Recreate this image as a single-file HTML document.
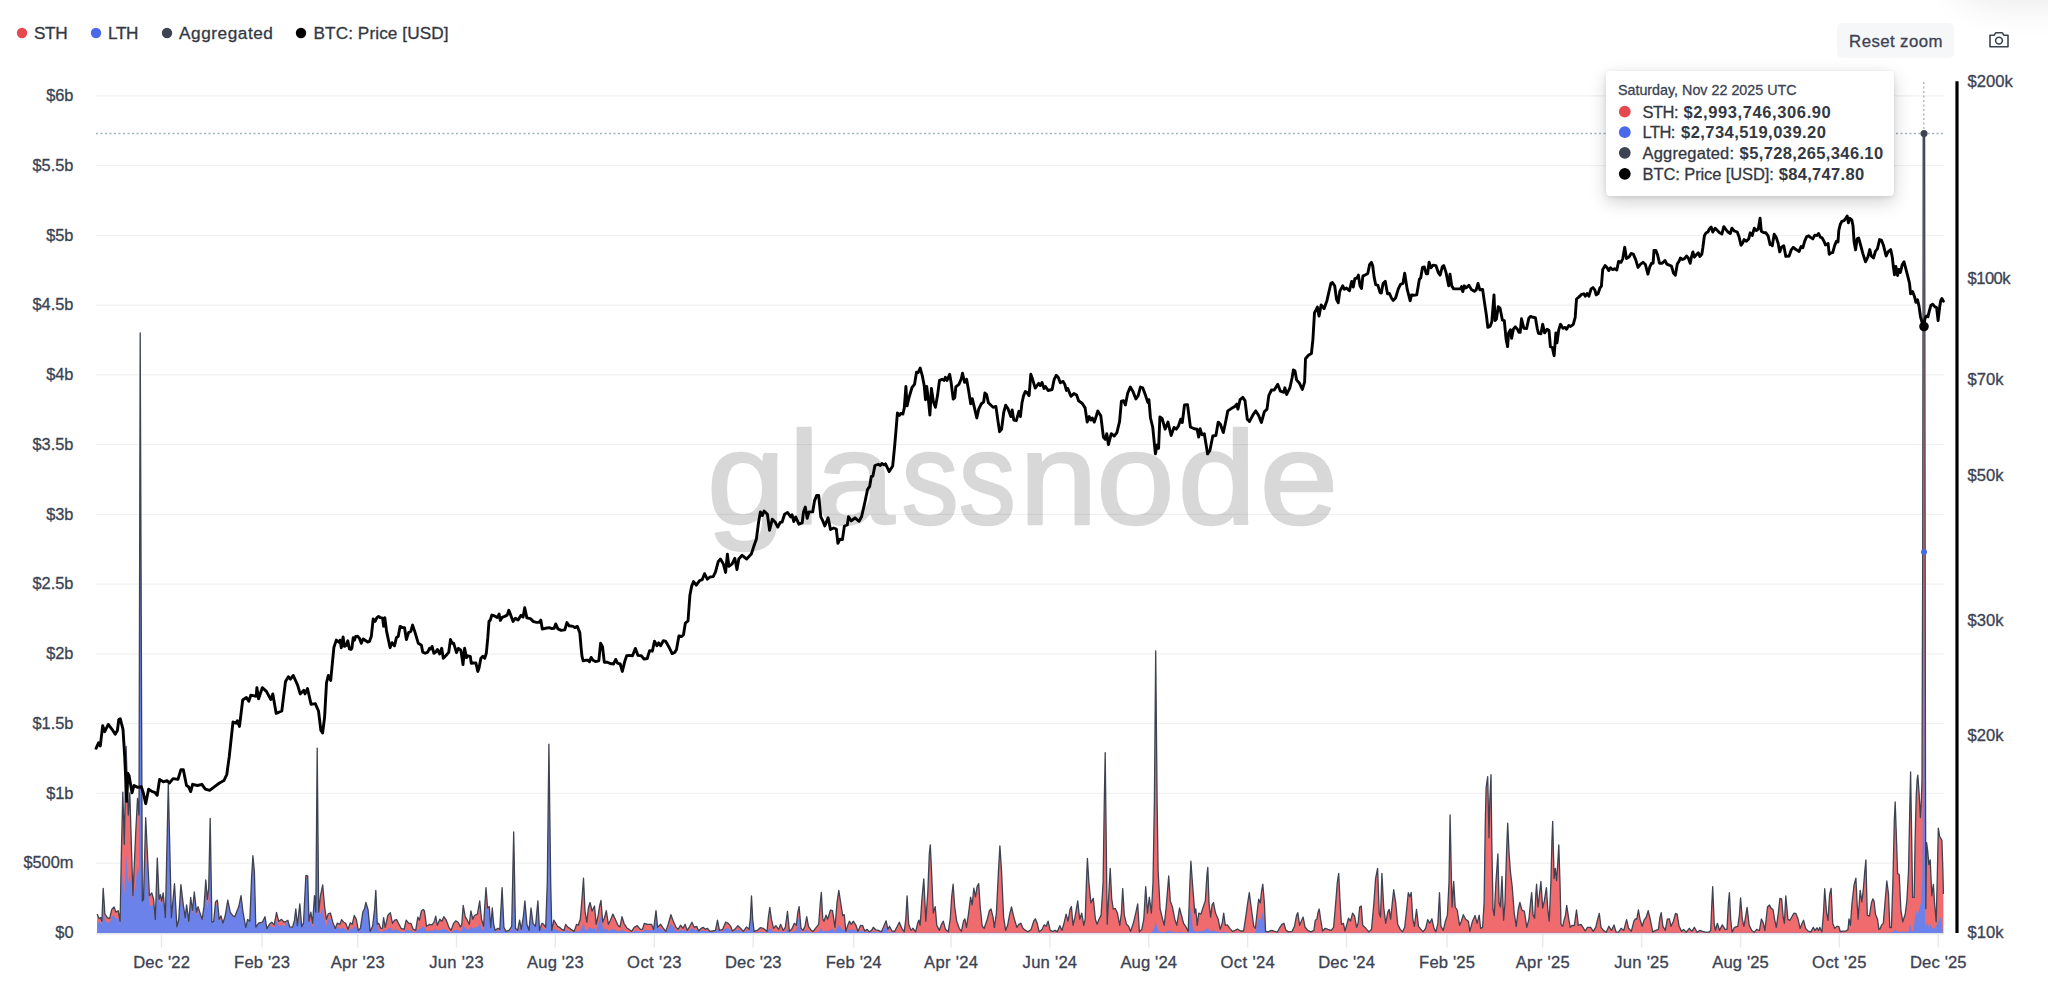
<!DOCTYPE html>
<html><head><meta charset="utf-8"><title>glassnode chart</title>
<style>html,body{margin:0;padding:0;background:#fff}body{width:2048px;height:982px;position:relative;overflow:hidden;font-family:"Liberation Sans",Arial,sans-serif}</style>
</head><body>
<svg width="2048" height="982" viewBox="0 0 2048 982" style="position:absolute;left:0;top:0" font-family="Liberation Sans, Arial, sans-serif">
<line x1="96" y1="95.9" x2="1944" y2="95.9" stroke="#f1f1f2" stroke-width="1.25"/>
<line x1="96" y1="165.7" x2="1944" y2="165.7" stroke="#f1f1f2" stroke-width="1.25"/>
<line x1="96" y1="235.4" x2="1944" y2="235.4" stroke="#f1f1f2" stroke-width="1.25"/>
<line x1="96" y1="305.1" x2="1944" y2="305.1" stroke="#f1f1f2" stroke-width="1.25"/>
<line x1="96" y1="374.9" x2="1944" y2="374.9" stroke="#f1f1f2" stroke-width="1.25"/>
<line x1="96" y1="444.6" x2="1944" y2="444.6" stroke="#f1f1f2" stroke-width="1.25"/>
<line x1="96" y1="514.4" x2="1944" y2="514.4" stroke="#f1f1f2" stroke-width="1.25"/>
<line x1="96" y1="584.1" x2="1944" y2="584.1" stroke="#f1f1f2" stroke-width="1.25"/>
<line x1="96" y1="653.9" x2="1944" y2="653.9" stroke="#f1f1f2" stroke-width="1.25"/>
<line x1="96" y1="723.6" x2="1944" y2="723.6" stroke="#f1f1f2" stroke-width="1.25"/>
<line x1="96" y1="793.4" x2="1944" y2="793.4" stroke="#f1f1f2" stroke-width="1.25"/>
<line x1="96" y1="863.1" x2="1944" y2="863.1" stroke="#f1f1f2" stroke-width="1.25"/>
<g opacity="0.15"><text transform="scale(1.075,1)" y="524" font-size="131" fill="#000" stroke="#000" stroke-width="2.6" stroke-linejoin="round"><tspan x="657.6 733.5 759.4">gla</tspan><tspan x="838.7" textLength="106.1" lengthAdjust="spacingAndGlyphs">ss</tspan><tspan x="948.2 1019.8 1095.5 1171.8">node</tspan></text></g>
<line x1="96" y1="933.6" x2="1944" y2="933.6" stroke="#e4e5e8" stroke-width="1.6"/>
<line x1="96" y1="133.5" x2="1944" y2="133.5" stroke="#9fb2bf" stroke-width="1.3" stroke-dasharray="2 2.5"/>
<line x1="1923.8" y1="82" x2="1923.8" y2="933" stroke="#9fb2bf" stroke-width="1.3" stroke-dasharray="2 2.5"/>
<path d="M97.2,914 L99,918.6 L100.8,917.6 L101.9,921.3 L103.2,888.3 L104.9,914 L107.3,917.6 L109.6,918.6 L111.8,909.4 L114,907 L115.9,912.1 L118.2,910.7 L120.1,921.3 L121.4,851.6 L122.8,792.1 L124.3,844.3 L126.1,746.3 L128.3,815 L129.8,793 L132.9,895.6 L135.7,833.3 L137.5,798.5 L139,815 L140.2,332.9 L142.3,901.1 L143.5,899.3 L145.7,817.7 L149.4,895.6 L151.8,892.9 L153.6,899.3 L155.3,919.5 L157.3,858.1 L159.1,899.3 L160.4,894.7 L161.7,901.1 L163.2,892.9 L165.4,917.6 L168.3,783.8 L171.4,917.6 L174.5,883.7 L176.9,926.8 L178.7,919.5 L180.9,884.6 L183.3,904.8 L185.2,917.6 L186.6,904.8 L188.8,921.3 L190.7,897.5 L192.5,910.3 L194.3,892 L196.5,912.1 L198,906.6 L202.1,919.4 L204,906.6 L205.8,880 L207.3,899.3 L208.7,888.3 L210.2,818.3 L211.9,922.2 L213.7,921.3 L215.5,902 L217.4,900.2 L219.2,919.4 L221,915.8 L222.9,923.1 L225.2,915.8 L227.8,900.2 L230.2,912.1 L232.9,915.8 L234.8,916.7 L236.6,912.1 L238.8,906.6 L241,895.6 L243,912.1 L245.8,927.7 L247.6,919.4 L249.8,921.3 L251.6,877.3 L252.9,855.7 L254.4,871.8 L255.8,927.1 L258.6,923.1 L262.3,922.2 L265,916.7 L266.8,928.6 L269.6,924 L271.8,922.2 L274.2,924.9 L276.5,912.5 L278.7,921.3 L281.5,919.4 L284.2,922.2 L286.1,921.3 L287.9,920.3 L289.7,926.8 L292.5,927.1 L294.3,921.3 L295.8,908.8 L297.4,925.8 L299.8,903.9 L301.7,926.8 L303.5,923.1 L305.9,875.4 L307.7,875.8 L309,921.3 L310.8,912.1 L312.6,923.1 L314.5,895.6 L315.8,912.1 L317.2,748.1 L318.7,912.1 L320.5,895.6 L322.7,885 L324.6,906.6 L326.4,919.4 L328.2,913.9 L330.4,913 L332.8,922.2 L335.2,928.6 L337.4,923.1 L340,924.3 L341.6,919.6 L343.7,922.2 L345.7,923.3 L348.1,929.4 L350.2,922.9 L352.2,924.3 L354.3,915.5 L356.3,919.2 L358.3,930.4 L360.4,928.3 L362.8,912.1 L364.4,909 L365.9,902.5 L368.1,910 L370.1,931.4 L372.6,926.3 L374.6,909 L375.8,890.3 L377.3,924.3 L378.7,923.3 L380.7,928.3 L382.4,928.3 L383.6,917.6 L385.2,927.3 L387.9,915.1 L390.3,912.7 L392.5,923.3 L394.6,920.2 L396.6,919.6 L399,924.3 L401.1,928.3 L404.1,929.4 L406.2,920.2 L408.8,923.3 L410.9,923.3 L413.3,929.4 L415.7,930.4 L417.8,917.1 L419.4,920.2 L421.4,911 L423.1,909.4 L424.5,911 L426.5,926.3 L429.6,924.3 L432,924.9 L434.1,922.2 L435.7,916.1 L437.3,925.3 L439.8,919.2 L441.8,921.2 L443.8,916.7 L446.3,920.2 L448.9,927.3 L451,930.4 L453.6,923.3 L455.7,920.8 L458.1,922.2 L460.5,926.9 L461.8,924.3 L463.2,905.3 L465.2,916.7 L467.3,920.2 L469.3,924.3 L470.9,911 L472.8,919.2 L474.4,915.5 L477.4,914.1 L479.7,900.9 L481.5,919.2 L483.6,926.3 L485,902.9 L486,887.6 L487.6,908 L489.3,906.6 L490.7,927.3 L492.3,908 L493.7,924.3 L495.2,930.4 L497.8,928.3 L499.8,929.4 L502.1,887.6 L503.9,927.3 L506,931.4 L509,930.4 L511.7,926.3 L513.7,832 L515.5,928.3 L517.6,930.4 L519.6,920.2 L521.2,929.4 L523.3,917.1 L524.9,900.9 L526.9,924.3 L529,930.4 L531,908 L533,923.3 L535.5,926.3 L537.9,900.9 L539.5,930.4 L542,923.3 L543.6,924.3 L545.7,927.3 L547.3,882.5 L548.9,744.1 L550.7,882.5 L551.8,930.4 L553.8,920.2 L555.8,923.3 L557.5,926.3 L559.5,927.3 L561.9,929.4 L564,930.4 L565.6,924.3 L568.1,927.3 L571.1,929.4 L574.2,931.4 L576.6,924.3 L578.2,925.3 L580.3,919.2 L582.3,894.8 L583.5,878.1 L585,911 L586.8,922.2 L588.4,908 L590,902.5 L592.1,911 L594.5,906 L596.2,924.3 L598.2,915.1 L599.6,906 L601,900.5 L602.7,922.2 L604.7,917.1 L606.3,910.6 L608.4,924.3 L610.4,920.2 L612.9,914.1 L615.3,919.2 L617.9,925.3 L620,926.9 L622,916.7 L624,923.3 L627.1,928.3 L629.1,929.4 L631.6,931.4 L634.2,927.3 L637.3,925.7 L640.3,929.4 L642.4,929.4 L644.4,923.3 L647.5,924.3 L651.5,924.3 L653.6,929.4 L656,910.6 L657.6,927.3 L660.7,924.3 L662.7,927.3 L665.8,931.4 L668.2,924.3 L670.9,914.7 L672.9,920.2 L676,927.3 L678,929.4 L680.5,925.3 L683.1,928.3 L685.1,924.3 L687.2,930.4 L689.8,926.3 L691.9,922.2 L694.3,927.3 L696.7,926.3 L698.6,931 L701.2,928.3 L703.2,927.3 L705.3,929.4 L707.3,928.3 L710,931.4 L712.4,931 L715.5,930.4 L717.5,920.2 L719.5,930.4 L722.6,929.4 L725.6,922.2 L728.3,923.3 L730.7,926.3 L732.4,931 L734.8,929.4 L737.9,925.7 L740.5,928.3 L743.3,931.4 L746.6,926.9 L749,929.4 L750.3,919.2 L751.5,895.8 L752.7,919.2 L754.1,931.4 L757.2,930.4 L760.2,927.7 L763.3,928.3 L767,931.4 L768.4,917.1 L769.8,907.4 L771.4,919.2 L773.5,928.3 L775.9,925.7 L778.6,929.4 L780.6,924.3 L783.3,930.4 L785.3,927.3 L787.5,911.4 L789.4,931.4 L791.8,929 L794.3,923.3 L796.3,925.3 L797.9,912.1 L799.1,906.6 L801,928.3 L803,930.4 L805,926.3 L806.7,916.7 L808.5,926.3 L811.2,930.4 L813.2,931.4 L816.2,927.3 L818.7,924.3 L820.3,902.9 L821.3,892.3 L822.8,919.2 L824,921.2 L826,915.1 L827.6,919.2 L830.5,910 L832.5,910.6 L835,927.3 L837,902.9 L838.8,890.3 L840.7,902.9 L842.7,915.5 L844.3,914.7 L845.8,931.4 L847.8,925.3 L849.4,921.2 L851.3,924.3 L853.3,921.2 L856,925.3 L857.8,931.4 L860.6,925.3 L862.7,925.7 L864.7,931 L867.1,929.4 L869.2,931.8 L871.6,930.4 L873.3,927.3 L875.7,929.8 L878.3,930.4 L881.4,931.8 L883.8,926.3 L886.1,920.8 L887.9,929.4 L889.5,926.3 L892,931 L894.6,931.4 L897.3,926.3 L899.3,922.2 L901.8,928.3 L904.2,931.8 L905.8,919.2 L907.1,895.8 L908.7,924.3 L910.9,930.4 L913,928.3 L915.6,931.8 L917.6,923.3 L918.9,920.2 L920.1,925.3 L922.1,896.8 L923.8,878.9 L925.8,921.2 L927.8,892.7 L929.3,854 L930.3,844.9 L931.5,870.3 L933.3,913.1 L935.2,906.6 L936.8,925.3 L939.4,930.4 L941.5,924.3 L943.3,921.2 L945.5,929.4 L948.2,931.8 L950.2,919.2 L951.7,896.8 L953.1,884.2 L954.7,907 L956.7,921.2 L959.2,928.3 L961.4,931.4 L963.5,921.2 L964.9,918.8 L966.5,927.3 L968.6,913.1 L970.6,897.2 L972.2,904.9 L973.8,888.2 L975.5,896.8 L977.1,886.6 L978.7,883.6 L980.2,907 L982.2,926.3 L984.2,928.3 L987.3,919.2 L989.3,911 L991,909 L993,917.1 L994.4,927.3 L996.4,913.1 L998.5,870.3 L999.9,845.9 L1001.5,870.3 L1003.6,917.1 L1005.6,930.4 L1007.6,925.3 L1009.7,914.1 L1011.5,907 L1013.8,917.1 L1016.8,927.3 L1018.8,924.3 L1020.9,923.3 L1022.9,928.3 L1025.6,930.4 L1028,931.8 L1031.1,929.4 L1033.7,921.2 L1035.3,918.8 L1037.2,923.3 L1039.2,931.8 L1042,929.4 L1044.1,924.9 L1046.1,926.3 L1048.1,921.2 L1050.2,930.4 L1052.6,931.4 L1055.3,930.4 L1057.3,931.8 L1059.8,925.7 L1062,930.4 L1064,923.3 L1066.1,914.1 L1068.1,921.2 L1070.1,909 L1071.4,906.6 L1073,925.3 L1075,917.1 L1077.7,900.9 L1079.7,919.2 L1081.7,913.1 L1083.8,925.3 L1085.2,919.2 L1086.4,882.5 L1087.4,858.5 L1088.9,882.5 L1090.9,902.9 L1093.3,898.4 L1095.4,919.2 L1097,924.3 L1099,919.2 L1101.1,915.1 L1103.1,882.5 L1104.3,801.1 L1105.2,752.6 L1106,821.4 L1107.2,924.3 L1108.8,894.8 L1110.2,868.3 L1111.7,898.8 L1113.3,909 L1115.3,908.6 L1117.4,913.1 L1119.8,925.3 L1121.4,913.1 L1122.7,888.6 L1124.3,915.1 L1126.5,924.3 L1128.6,926.3 L1130.6,931.4 L1133.3,923.3 L1135.3,915.1 L1137.7,903.9 L1139.4,931.8 L1141.8,929.4 L1143.8,919.2 L1145.7,886.6 L1147.5,913.1 L1149.3,897.2 L1151.4,913.1 L1153,882.5 L1154.4,801.1 L1155.7,651 L1157.1,801.1 L1158.1,870.3 L1160.1,909 L1162.6,919.2 L1164.2,925.3 L1166.2,907 L1168.7,876 L1170.3,900.9 L1172.4,907 L1174.8,919.2 L1176.8,925.3 L1179.5,908 L1181.5,915.5 L1183.6,923.3 L1185.6,926.3 L1188.2,931.4 L1189.9,882.5 L1190.9,861.2 L1192.7,886.6 L1194.8,913.1 L1195.8,909 L1197.2,925.3 L1198.8,913.1 L1200.9,914.1 L1202.9,908 L1205.3,900.9 L1207,874.4 L1207.8,867.3 L1209,902.9 L1210.6,917.1 L1212.1,904.9 L1213.5,902.5 L1215.5,913.1 L1218.2,919.2 L1220.2,929.4 L1222.2,923.3 L1223.7,913.1 L1225.3,925.3 L1227.3,924.9 L1229.8,928.3 L1232.4,931.4 L1235.1,930.4 L1237.5,929 L1240.6,931 L1243.6,931 L1245.7,917.1 L1247.7,902.9 L1249.3,892.7 L1251.4,909 L1253.8,926.3 L1255.4,928.3 L1257.5,909 L1258.7,899.2 L1260.3,902.9 L1261.5,891.7 L1262.8,884.2 L1264.4,902.9 L1265.6,931.4 L1268.1,931.8 L1271.1,930.4 L1273.8,931 L1277.2,932.2 L1279.9,927.3 L1281.9,924.3 L1283.9,923.3 L1286,930.4 L1288.8,931.8 L1292.1,931.4 L1294.5,926.3 L1296.6,915.1 L1297.8,912.7 L1299.6,925.3 L1301.7,920.2 L1303.1,917.1 L1305.1,927.3 L1307.8,930.4 L1310.8,931.8 L1313.9,930.4 L1315.3,920.2 L1316.9,919.2 L1318.1,912.1 L1319.2,909 L1320.6,919.2 L1322.6,931 L1325.1,928.3 L1328.1,929.4 L1331.2,930.4 L1333.6,927.3 L1335.7,902.9 L1337.3,882.5 L1338.7,873.4 L1339.9,898.8 L1341.4,924.3 L1343.4,923.3 L1345,931 L1347.1,923.3 L1348.5,918.2 L1350.5,921.2 L1352.6,913.1 L1354.6,916.1 L1356.6,927.3 L1358.1,923.3 L1359.7,907 L1361.3,906 L1362.7,925.3 L1365.8,928.3 L1368.8,931.8 L1371.5,929.4 L1373.9,902.9 L1375.6,878.5 L1377.6,868.3 L1379.2,913.1 L1380.5,917.1 L1381.9,873.4 L1383.7,907 L1385.7,923.3 L1387.8,912.1 L1389.2,909.4 L1390.6,919.2 L1392.3,902.9 L1393.7,889.7 L1395.7,902.9 L1397.7,924.3 L1400.2,929.4 L1402.6,931.8 L1404.7,927.3 L1406.7,909 L1408.3,892.7 L1410,896.8 L1411.2,892.3 L1412.8,919.2 L1414.4,926.3 L1416.5,909.4 L1418.5,926.3 L1421,929.4 L1423,931.8 L1425.6,928.3 L1427.7,919.6 L1429.7,923.3 L1431.9,918.8 L1434,928.3 L1435.8,931.8 L1437.9,923.3 L1439.5,892.7 L1440.9,926.3 L1443.3,930.4 L1445.4,921.2 L1447.4,915.1 L1449,882.5 L1450.1,814.9 L1451.5,882.5 L1452.1,907 L1453.7,881.5 L1455.2,907 L1457.2,910 L1459.6,925.3 L1461.3,921.2 L1463.3,914.7 L1465.7,919.2 L1468.4,921.2 L1469.8,931.4 L1472.5,921.2 L1475.1,915.5 L1477.1,923.3 L1479.2,915.1 L1480.6,928.3 L1482.6,927.3 L1484.1,902.9 L1485.3,821.4 L1486.1,787.9 L1487.7,776.7 L1489,837.7 L1489.8,801.1 L1491,774.6 L1491.8,841.8 L1493,909 L1494.3,915.5 L1495.9,882.5 L1497.9,854 L1499.1,902.9 L1500.4,907 L1502,876.4 L1503.6,920.2 L1505,902.9 L1506.5,854 L1507.7,823.1 L1509.1,854 L1510.5,872.4 L1512.2,886.6 L1514.2,913.1 L1516.2,926.3 L1518.3,909 L1519.9,902.5 L1521.9,910 L1524.4,911.4 L1526.8,927.3 L1528.9,919.2 L1530.5,902.9 L1531.7,892.7 L1533.1,915.1 L1534.6,918.2 L1535.8,894.8 L1536.6,884.2 L1538,907 L1539.7,892.7 L1540.9,881.5 L1542.7,908 L1544.3,900.9 L1546.4,887.6 L1547.8,909 L1549.2,921.2 L1550.9,882.5 L1551.9,841.8 L1552.7,821.4 L1554.1,878.5 L1555.3,868.3 L1556.6,880.5 L1557.8,862.2 L1558.8,844.9 L1560,882.5 L1561,924.3 L1562.7,926.3 L1564.3,919.2 L1565.5,915.1 L1566.7,905.3 L1568.8,919.2 L1570.2,927.3 L1572.2,925.3 L1574.3,925.7 L1576.5,910 L1578.3,925.3 L1581,924.3 L1583,927.3 L1585.1,931 L1587.5,927.3 L1590.6,927.3 L1593.2,931.4 L1595.7,927.3 L1597.7,919.2 L1599.3,913.5 L1601,927.3 L1603.4,930.4 L1606.2,932.2 L1608.9,926.3 L1611.5,930.4 L1614,924.9 L1616,931.8 L1618.5,932.2 L1621.1,928.3 L1623.8,930.4 L1626.6,919.6 L1628.6,928.3 L1631.3,931.4 L1633.9,921.2 L1635.4,918.8 L1636.8,919.2 L1638.4,910 L1640,919.2 L1642.1,926.3 L1644.1,920.2 L1646.2,917.1 L1648.2,910.6 L1650.2,919.2 L1652.7,931.8 L1655.7,930.4 L1658.4,929.4 L1660,917.1 L1661.2,912.7 L1662.9,926.3 L1665.3,930.4 L1667.3,919.2 L1669.4,918.8 L1671,926.3 L1673.4,921.2 L1675.5,913.5 L1677.1,914.1 L1679.1,926.3 L1681.6,931.4 L1683.6,929.4 L1686.3,932.2 L1689.3,928.3 L1691.8,931.4 L1694.4,927.3 L1697.1,932.2 L1699.9,930.4 L1702.6,931.4 L1705.6,932.2 L1708.7,932.2 L1710.7,930.4 L1711.7,907 L1712.7,886.6 L1714.2,923.3 L1715.4,930.4 L1717.4,923.3 L1719.5,930.4 L1722.3,924.9 L1725,929.4 L1727,929.4 L1728.4,902.9 L1729.4,892.7 L1730.7,919.2 L1732.1,932.2 L1734.5,927.3 L1737.8,926.3 L1739.4,915.1 L1740.6,897.8 L1742.3,919.2 L1743.9,926.3 L1744.5,923.3 L1747.1,907.4 L1749.2,925.4 L1751.8,930.5 L1754.3,932.2 L1756.7,929.4 L1759.4,930.5 L1761.4,918.9 L1763.4,923.3 L1764.9,930.5 L1767.5,907 L1769.5,905 L1771,908.1 L1773,909.5 L1774.6,919.3 L1776.3,927.4 L1778.3,913.1 L1779.9,898.5 L1781.6,898.9 L1783.2,917.2 L1784.4,923.3 L1785.8,895.8 L1787.9,919.3 L1789.9,920.3 L1791.9,916.8 L1794,913.1 L1796,913.6 L1798.1,919.3 L1800.1,928.4 L1802.1,923.3 L1803.6,920.3 L1805.6,928.4 L1808.2,931.1 L1810.9,931.9 L1813.3,927.4 L1815,930.5 L1817,927.8 L1818.4,930.5 L1819.9,927.4 L1821.9,931.9 L1823.5,913.1 L1824.7,888.7 L1826.6,913.1 L1828,920.3 L1829.6,894.8 L1831.1,888.3 L1832.7,923.3 L1834.7,928.4 L1836.8,926.4 L1838.8,926.4 L1840.2,931.5 L1842.9,931.1 L1845.9,931.1 L1848,929.4 L1849,918.9 L1850.4,925.4 L1852,903 L1854.1,884.6 L1855.9,878.1 L1857.1,903 L1858.1,919.3 L1860.2,890.3 L1861.8,901.9 L1863.2,890.7 L1864.7,872.4 L1865.9,859.8 L1867.3,915.2 L1869.4,916.2 L1871.4,903 L1872.8,898.9 L1874,900.9 L1875.5,914.2 L1877.5,919.3 L1878.9,929.4 L1880,929.1 L1881.6,925 L1883.3,923.4 L1884.9,903.8 L1886.8,881 L1888.5,894.1 L1889.8,927.5 L1891.4,927.5 L1893,877.8 L1894.3,820.7 L1895.2,802 L1896.3,833.8 L1897.6,873.7 L1899.2,874.5 L1900.9,910.3 L1902.8,921.8 L1905.3,913.6 L1906.9,900.6 L1908.5,871.2 L1909.7,812.6 L1910.6,771.9 L1911.4,820.7 L1912.6,897.3 L1914.2,897.3 L1915,845.2 L1916.2,796.3 L1917.1,780 L1917.8,775.1 L1919.1,793 L1920.4,817.5 L1921.4,799.6 L1922,780 L1922.7,560 L1923.2,134 L1924.6,134 L1925,454.1 L1925.5,780 L1925.8,908.7 L1926.6,842.7 L1927.6,850.1 L1928.9,864.7 L1930.2,859.8 L1931.8,895.7 L1933.4,884.3 L1934.6,903.8 L1936.2,921.8 L1937.4,871.2 L1938.3,828.1 L1939.6,836.2 L1941.9,840.3 L1942.9,871.2 L1943.4,894.1 L1943.4,932.9 L97.2,932.9 Z" fill="#ef6b6e"/>
<path d="M97.2,920 L99,923.1 L100.8,922.5 L101.9,925 L103.2,902.5 L104.9,920 L107.3,922.5 L109.6,923.1 L111.8,916.9 L114,915.3 L115.9,918.8 L118.2,917.8 L120.1,925 L121.4,898.7 L122.8,873.7 L124.3,895.6 L126.1,854.5 L128.3,883.3 L129.8,874.1 L132.9,899.4 L135.7,883.1 L137.5,865.6 L139,873.9 L140.2,350.9 L142.3,902.1 L143.5,900.3 L145.7,852.3 L149.4,906.8 L151.8,904.9 L153.6,904.3 L155.3,921.5 L157.3,869.3 L159.1,904.3 L160.4,900.4 L161.7,905.9 L163.2,898.9 L165.4,919.9 L168.3,806.2 L171.4,919.9 L174.5,891.1 L176.9,927.7 L178.7,921.5 L180.9,891.9 L183.3,909 L185.2,919.9 L186.6,909 L188.8,923 L190.7,902.8 L192.5,913.7 L194.3,898.1 L196.5,915.2 L198,910.6 L202.1,920.8 L204,909.2 L205.8,885.3 L207.3,909.3 L208.7,901.6 L210.2,824 L211.9,922.7 L213.7,921.8 L215.5,903.6 L217.4,906.7 L219.2,922.1 L221,919.2 L222.9,923.8 L225.2,917 L227.8,902.5 L230.2,913.5 L232.9,917 L234.8,917.8 L236.6,913.5 L238.8,908.4 L241,898.2 L243,913.5 L245.8,928 L247.6,920.4 L249.8,922.1 L251.6,881.2 L252.9,861.1 L254.4,876.1 L255.8,927.5 L258.6,923.8 L262.3,922.9 L265,917.8 L266.8,928.9 L269.6,924.6 L271.8,926.4 L274.2,928.1 L276.5,920.6 L278.7,925.9 L281.5,924.8 L284.2,926.4 L286.1,922.4 L287.9,921.6 L289.7,927.4 L292.5,927.7 L294.3,922.4 L295.8,911.2 L297.4,927.6 L299.8,911.1 L301.7,928.3 L303.5,923.6 L305.9,878.3 L307.7,878.7 L309,921.8 L310.8,922.4 L312.6,927.9 L314.5,897.5 L315.8,913.1 L317.2,757.3 L318.7,913.1 L320.5,914.2 L322.7,908.9 L324.6,919.7 L326.4,926.1 L328.2,919.6 L330.4,918.9 L332.8,925.4 L335.2,929.9 L337.4,926 L340,929.4 L341.6,927.5 L343.7,928.6 L345.7,929 L348.1,931.4 L350.2,928.8 L352.2,929.4 L354.3,925.9 L356.3,927.4 L358.3,931.8 L360.4,928.6 L362.8,913.1 L364.4,910.2 L365.9,904 L368.1,911.2 L370.1,932.1 L372.6,929.6 L374.6,910.2 L375.8,892.4 L377.3,924.7 L378.7,930.4 L380.7,931.7 L382.4,931.7 L383.6,929 L385.2,931.4 L387.9,928.4 L390.3,927.8 L392.5,930.4 L394.6,929.7 L396.6,929.5 L399,930.7 L401.1,931.7 L404.1,931.9 L406.2,929.7 L408.8,930.4 L410.9,930.4 L413.3,931.9 L415.7,932.2 L417.8,928.9 L419.4,929.7 L421.4,927.4 L423.1,927 L424.5,927.4 L426.5,931.2 L429.6,930.7 L432,930.8 L434.1,930.2 L435.7,928.6 L437.3,930.9 L439.8,929.4 L441.8,929.9 L443.8,928.8 L446.3,929.7 L448.9,931.4 L451,932.2 L453.6,930.4 L455.7,929.8 L458.1,930.2 L460.5,931.3 L461.8,930.7 L463.2,924.6 L465.2,928 L467.3,929 L469.3,930.2 L470.9,926.3 L472.8,928.7 L474.4,927.6 L477.4,927.2 L479.7,923.2 L481.5,928.7 L483.6,930.9 L485,914.9 L486,905.7 L487.6,910.5 L489.3,909.2 L490.7,927.9 L492.3,910.5 L493.7,925.1 L495.2,931.6 L497.8,930.6 L499.8,931.1 L502.1,889.9 L503.9,930.1 L506,932.1 L509,931.6 L511.7,929.6 L513.7,842.1 L515.5,930.6 L517.6,931.6 L519.6,926.5 L521.2,931.1 L523.3,918.7 L524.9,904.1 L526.9,925.1 L529,930.6 L531,910.5 L533,924.2 L535.5,927 L537.9,904.1 L539.5,930.6 L542,928 L543.6,928.5 L545.7,930.1 L547.3,887.6 L548.9,762.9 L550.7,887.6 L551.8,930.6 L553.8,928.4 L555.8,929.5 L557.5,930.5 L559.5,930.9 L561.9,931.6 L564,932 L565.6,929.8 L568.1,930.9 L571.1,931.6 L574.2,932.3 L576.6,931.3 L578.2,931.4 L580.3,930.3 L582.3,926 L583.5,922.9 L585,928.9 L586.8,930.9 L588.4,928.3 L590,927.3 L592.1,928.9 L594.5,928 L596.2,931.3 L598.2,924 L599.6,919.4 L601,916.6 L602.7,927.5 L604.7,929.7 L606.3,928.4 L608.4,931.1 L610.4,930.3 L612.9,929.1 L615.3,930.1 L617.9,931.3 L620,931.6 L622,929.6 L624,930.9 L627.1,931.9 L629.1,932.1 L631.6,932.4 L634.2,931.2 L637.3,930.7 L640.3,931.8 L642.4,931.8 L644.4,929.9 L647.5,930.2 L651.5,930.2 L653.6,929.7 L656,912.9 L657.6,927.9 L660.7,928.5 L662.7,930.1 L665.8,932.1 L668.2,928.5 L670.9,923.8 L672.9,926.5 L676,930.6 L678,931.4 L680.5,929.8 L683.1,931 L685.1,929.4 L687.2,931.8 L689.8,930.2 L691.9,927.5 L694.3,930.1 L696.7,929.6 L698.6,931.9 L701.2,930.6 L703.2,930.3 L705.3,931.3 L707.3,930.8 L710,932.2 L712.4,932 L715.5,931.7 L717.5,927.1 L719.5,931.7 L722.6,931.3 L725.6,928 L728.3,928.5 L730.7,929.9 L732.4,932 L734.8,931.3 L737.9,929.6 L740.5,930.8 L743.3,932.2 L746.6,930.2 L749,931.3 L750.3,919.9 L751.5,897.6 L752.7,919.9 L754.1,932.5 L757.2,932.3 L760.2,931.8 L763.3,931.9 L767,932.5 L768.4,929.7 L769.8,927.7 L771.4,930.1 L773.5,931.9 L775.9,931.4 L778.6,932.1 L780.6,931.1 L783.3,932.3 L785.3,931.7 L787.5,928.5 L789.4,932.5 L791.8,932 L794.3,930.9 L796.3,931.3 L797.9,920.4 L799.1,917.1 L801,931.9 L803,932.3 L805,931.5 L806.7,929.6 L808.5,931.5 L811.2,932.3 L813.2,932.5 L816.2,932.1 L818.7,931.8 L820.3,929.2 L821.3,927.9 L822.8,931.2 L824,931.4 L826,930.7 L827.6,931.2 L830.5,930.1 L832.5,928.8 L835,931.8 L837,927.4 L838.8,925.1 L840.7,927.4 L842.7,929.7 L844.3,929.5 L845.8,932.4 L847.8,930.5 L849.4,929.3 L851.3,930.2 L853.3,929.3 L856,930.5 L857.8,932.4 L860.6,930.5 L862.7,930.7 L864.7,932.3 L867.1,931.8 L869.2,932.5 L871.6,932.1 L873.3,931.2 L875.7,931.9 L878.3,932.1 L881.4,932.5 L883.8,928.9 L886.1,925.6 L887.9,932.1 L889.5,931.5 L892,932.4 L894.6,932.5 L897.3,932.8 L899.3,932.8 L901.8,932.8 L904.2,932.8 L905.8,932.8 L907.1,932.8 L908.7,932.8 L910.9,932.8 L913,932.8 L915.6,932.8 L917.6,932.8 L918.9,932.8 L920.1,932.8 L922.1,932.8 L923.8,932.8 L925.8,932.8 L927.8,932.8 L929.3,932.8 L930.3,932.8 L931.5,932.8 L933.3,932.8 L935.2,932.8 L936.8,932.8 L939.4,932.8 L941.5,932.8 L943.3,932.8 L945.5,932.8 L948.2,932.8 L950.2,932.8 L951.7,932.8 L953.1,932.8 L954.7,932.8 L956.7,932.8 L959.2,932.8 L961.4,932.8 L963.5,932.8 L964.9,932.8 L966.5,932.8 L968.6,932.8 L970.6,932.8 L972.2,932.8 L973.8,932.8 L975.5,932.8 L977.1,932.8 L978.7,932.8 L980.2,932.8 L982.2,932.8 L984.2,932.8 L987.3,932.8 L989.3,932.8 L991,932.8 L993,932.8 L994.4,932.8 L996.4,932.8 L998.5,932.8 L999.9,932.8 L1001.5,932.8 L1003.6,932.8 L1005.6,932.8 L1007.6,932.8 L1009.7,932.8 L1011.5,932.8 L1013.8,932.8 L1016.8,932.8 L1018.8,932.8 L1020.9,932.8 L1022.9,932.8 L1025.6,932.8 L1028,932.8 L1031.1,932.8 L1033.7,932.8 L1035.3,932.8 L1037.2,932.8 L1039.2,932.8 L1042,932.8 L1044.1,932.8 L1046.1,932.8 L1048.1,932.8 L1050.2,932.8 L1052.6,932.8 L1055.3,932.8 L1057.3,932.8 L1059.8,932.8 L1062,932.8 L1064,932.8 L1066.1,932.8 L1068.1,932.8 L1070.1,932.8 L1071.4,932.8 L1073,932.8 L1075,932.8 L1077.7,932.8 L1079.7,932.8 L1081.7,932.8 L1083.8,932.8 L1085.2,932.8 L1086.4,932.8 L1087.4,932.8 L1088.9,932.8 L1090.9,932.8 L1093.3,932.8 L1095.4,932.8 L1097,932.8 L1099,932.8 L1101.1,932.8 L1103.1,932.8 L1104.3,932.8 L1105.2,932.8 L1106,932.8 L1107.2,932.8 L1108.8,932.8 L1110.2,932.8 L1111.7,932.8 L1113.3,932.8 L1115.3,932.8 L1117.4,932.8 L1119.8,932.8 L1121.4,932.8 L1122.7,932.8 L1124.3,932.8 L1126.5,932.8 L1128.6,932.8 L1130.6,932.8 L1133.3,932.8 L1135.3,932.8 L1137.7,932.8 L1139.4,932.8 L1141.8,932.8 L1143.8,932.8 L1145.7,932.8 L1147.5,932.8 L1149.3,932.8 L1151.4,932.8 L1153,930.8 L1154.4,927.5 L1155.7,921.5 L1157.1,927.5 L1158.1,930.3 L1160.1,931.8 L1162.6,932.3 L1164.2,932.5 L1166.2,931.8 L1168.7,930.5 L1170.3,931.5 L1172.4,931.8 L1174.8,932.3 L1176.8,932.5 L1179.5,931.8 L1181.5,932.1 L1183.6,932.4 L1185.6,932.5 L1188.2,932.7 L1189.9,915.2 L1190.9,907.7 L1192.7,929.1 L1194.8,931.2 L1195.8,930.9 L1197.2,932.2 L1198.8,931.2 L1200.9,931.3 L1202.9,930.8 L1205.3,930.2 L1207,928.1 L1207.8,927.6 L1209,930.4 L1210.6,931.5 L1212.1,930.6 L1213.5,930.4 L1215.5,931.2 L1218.2,931.7 L1220.2,932.5 L1222.2,932 L1223.7,931.2 L1225.3,932.2 L1227.3,932.2 L1229.8,932.8 L1232.4,932.8 L1235.1,932.8 L1237.5,932.8 L1240.6,932.8 L1243.6,932.8 L1245.7,932.8 L1247.7,932.8 L1249.3,932.8 L1251.4,932.8 L1253.8,932.8 L1255.4,932.8 L1257.5,922.8 L1258.7,918.7 L1260.3,920.2 L1261.5,915.5 L1262.8,912.4 L1264.4,920.2 L1265.6,932.8 L1268.1,932.8 L1271.1,932.8 L1273.8,932.8 L1277.2,932.8 L1279.9,932.8 L1281.9,932.8 L1283.9,932.8 L1286,932.8 L1288.8,932.8 L1292.1,932.8 L1294.5,932.8 L1296.6,932.8 L1297.8,932.8 L1299.6,932.8 L1301.7,932.8 L1303.1,932.8 L1305.1,932.8 L1307.8,932.8 L1310.8,932.8 L1313.9,932.8 L1315.3,932.8 L1316.9,932.8 L1318.1,932.8 L1319.2,932.8 L1320.6,932.8 L1322.6,932.8 L1325.1,932.8 L1328.1,932.8 L1331.2,932.8 L1333.6,932.8 L1335.7,932.8 L1337.3,932.8 L1338.7,932.8 L1339.9,932.8 L1341.4,932.8 L1343.4,932.8 L1345,932.8 L1347.1,932.8 L1348.5,932.8 L1350.5,932.8 L1352.6,932.8 L1354.6,932.8 L1356.6,932.8 L1358.1,932.8 L1359.7,932.8 L1361.3,932.8 L1362.7,932.8 L1365.8,932.8 L1368.8,932.8 L1371.5,932.8 L1373.9,932.8 L1375.6,932.8 L1377.6,932.8 L1379.2,932.8 L1380.5,932.8 L1381.9,932.8 L1383.7,932.8 L1385.7,932.8 L1387.8,932.8 L1389.2,932.8 L1390.6,932.8 L1392.3,932.8 L1393.7,932.8 L1395.7,932.8 L1397.7,932.8 L1400.2,932.8 L1402.6,932.8 L1404.7,932.8 L1406.7,932.8 L1408.3,932.8 L1410,932.8 L1411.2,932.8 L1412.8,932.8 L1414.4,932.8 L1416.5,932.8 L1418.5,932.8 L1421,932.8 L1423,932.8 L1425.6,932.8 L1427.7,932.8 L1429.7,932.8 L1431.9,932.8 L1434,932.8 L1435.8,932.8 L1437.9,932.8 L1439.5,932.8 L1440.9,932.8 L1443.3,932.8 L1445.4,932.8 L1447.4,932.8 L1449,932.8 L1450.1,932.8 L1451.5,932.8 L1452.1,932.8 L1453.7,932.8 L1455.2,932.8 L1457.2,932.8 L1459.6,932.8 L1461.3,932.8 L1463.3,932.8 L1465.7,932.8 L1468.4,932.8 L1469.8,932.8 L1472.5,932.8 L1475.1,932.8 L1477.1,932.8 L1479.2,932.8 L1480.6,932.8 L1482.6,932.8 L1484.1,932.8 L1485.3,932.8 L1486.1,932.8 L1487.7,932.8 L1489,932.8 L1489.8,932.8 L1491,932.8 L1491.8,932.8 L1493,932.8 L1494.3,932.8 L1495.9,932.8 L1497.9,932.8 L1499.1,932.8 L1500.4,932.8 L1502,932.8 L1503.6,932.8 L1505,932.8 L1506.5,932.8 L1507.7,932.8 L1509.1,932.8 L1510.5,932.8 L1512.2,932.8 L1514.2,932.8 L1516.2,932.8 L1518.3,932.8 L1519.9,932.8 L1521.9,932.8 L1524.4,932.8 L1526.8,932.8 L1528.9,932.8 L1530.5,932.8 L1531.7,932.8 L1533.1,932.8 L1534.6,932.8 L1535.8,932.8 L1536.6,932.8 L1538,932.8 L1539.7,932.8 L1540.9,932.8 L1542.7,932.8 L1544.3,932.8 L1546.4,932.8 L1547.8,932.8 L1549.2,932.8 L1550.9,932.8 L1551.9,932.8 L1552.7,932.8 L1554.1,932.8 L1555.3,932.8 L1556.6,932.8 L1557.8,932.8 L1558.8,932.8 L1560,932.8 L1561,932.8 L1562.7,932.8 L1564.3,932.8 L1565.5,932.8 L1566.7,932.8 L1568.8,932.8 L1570.2,932.8 L1572.2,932.8 L1574.3,932.8 L1576.5,932.8 L1578.3,932.8 L1581,932.8 L1583,932.8 L1585.1,932.8 L1587.5,932.8 L1590.6,932.8 L1593.2,932.8 L1595.7,932.8 L1597.7,932.8 L1599.3,932.8 L1601,932.8 L1603.4,932.8 L1606.2,932.8 L1608.9,932.8 L1611.5,932.8 L1614,932.8 L1616,932.8 L1618.5,932.8 L1621.1,932.8 L1623.8,932.8 L1626.6,932.8 L1628.6,932.8 L1631.3,932.8 L1633.9,932.8 L1635.4,932.8 L1636.8,932.8 L1638.4,932.8 L1640,932.8 L1642.1,932.8 L1644.1,932.8 L1646.2,932.8 L1648.2,932.8 L1650.2,932.8 L1652.7,932.8 L1655.7,932.8 L1658.4,932.8 L1660,932.8 L1661.2,932.8 L1662.9,932.8 L1665.3,932.8 L1667.3,932.8 L1669.4,932.8 L1671,932.8 L1673.4,932.8 L1675.5,932.8 L1677.1,932.8 L1679.1,932.8 L1681.6,932.8 L1683.6,932.8 L1686.3,932.8 L1689.3,932.8 L1691.8,932.8 L1694.4,932.8 L1697.1,932.8 L1699.9,932.8 L1702.6,932.8 L1705.6,932.8 L1708.7,932.8 L1710.7,932.8 L1711.7,932.8 L1712.7,932.8 L1714.2,932.8 L1715.4,932.8 L1717.4,932.8 L1719.5,932.8 L1722.3,932.8 L1725,932.8 L1727,932.8 L1728.4,932.8 L1729.4,932.8 L1730.7,932.8 L1732.1,932.8 L1734.5,932.8 L1737.8,932.8 L1739.4,932.8 L1740.6,932.8 L1742.3,932.8 L1743.9,932.8 L1744.5,932.8 L1747.1,932.8 L1749.2,932.8 L1751.8,932.8 L1754.3,932.8 L1756.7,932.8 L1759.4,932.8 L1761.4,932.8 L1763.4,932.8 L1764.9,932.8 L1767.5,932.8 L1769.5,932.8 L1771,932.8 L1773,932.8 L1774.6,932.8 L1776.3,932.8 L1778.3,932.8 L1779.9,932.8 L1781.6,932.8 L1783.2,932.8 L1784.4,932.8 L1785.8,932.8 L1787.9,932.8 L1789.9,932.8 L1791.9,932.8 L1794,932.8 L1796,932.8 L1798.1,932.8 L1800.1,932.8 L1802.1,932.8 L1803.6,932.8 L1805.6,932.8 L1808.2,932.8 L1810.9,932.8 L1813.3,932.8 L1815,932.8 L1817,932.8 L1818.4,932.8 L1819.9,932.8 L1821.9,932.8 L1823.5,932.8 L1824.7,932.8 L1826.6,932.8 L1828,932.8 L1829.6,932.8 L1831.1,932.8 L1832.7,932.8 L1834.7,932.8 L1836.8,932.8 L1838.8,932.8 L1840.2,932.8 L1842.9,932.8 L1845.9,932.8 L1848,932.8 L1849,932.8 L1850.4,932.8 L1852,932.8 L1854.1,932.8 L1855.9,932.8 L1857.1,932.8 L1858.1,932.8 L1860.2,932.8 L1861.8,932.8 L1863.2,932.8 L1864.7,932.8 L1865.9,932.8 L1867.3,932.8 L1869.4,932.8 L1871.4,932.8 L1872.8,932.8 L1874,932.8 L1875.5,932.8 L1877.5,932.8 L1878.9,932.8 L1880,932.8 L1881.6,932.8 L1883.3,932.8 L1884.9,932.8 L1886.8,932.8 L1888.5,932.8 L1889.8,932.8 L1893.8,931.5 L1895.5,929.1 L1897.1,931.8 L1908.5,931.8 L1910.1,924.2 L1911.8,930.7 L1913.4,931.5 L1915,916.9 L1916.7,910.3 L1917.8,915.2 L1919.4,908.7 L1921.1,902.2 L1922.4,877.8 L1923.2,700 L1923.9,552 L1924.6,700 L1925.1,923.4 L1925.8,926 L1926.4,925 L1927.6,922.6 L1928.9,927.4 L1930.2,923.4 L1931.8,927.4 L1933.8,929 L1935.4,927.4 L1937.4,923.4 L1939,920.4 L1940.6,917.1 L1941.9,921.9 L1942.7,932.3 L1942.7,932.9 L97.2,932.9 Z" fill="#6b82ea"/>
<path d="M97.2,914 L99,918.6 L100.8,917.6 L101.9,921.3 L103.2,888.3 L104.9,914 L107.3,917.6 L109.6,918.6 L111.8,909.4 L114,907 L115.9,912.1 L118.2,910.7 L120.1,921.3 L121.4,851.6 L122.8,792.1 L124.3,844.3 L126.1,746.3 L128.3,815 L129.8,793 L132.9,895.6 L135.7,833.3 L137.5,798.5 L139,815 L140.2,332.9 L142.3,901.1 L143.5,899.3 L145.7,817.7 L149.4,895.6 L151.8,892.9 L153.6,899.3 L155.3,919.5 L157.3,858.1 L159.1,899.3 L160.4,894.7 L161.7,901.1 L163.2,892.9 L165.4,917.6 L168.3,783.8 L171.4,917.6 L174.5,883.7 L176.9,926.8 L178.7,919.5 L180.9,884.6 L183.3,904.8 L185.2,917.6 L186.6,904.8 L188.8,921.3 L190.7,897.5 L192.5,910.3 L194.3,892 L196.5,912.1 L198,906.6 L202.1,919.4 L204,906.6 L205.8,880 L207.3,899.3 L208.7,888.3 L210.2,818.3 L211.9,922.2 L213.7,921.3 L215.5,902 L217.4,900.2 L219.2,919.4 L221,915.8 L222.9,923.1 L225.2,915.8 L227.8,900.2 L230.2,912.1 L232.9,915.8 L234.8,916.7 L236.6,912.1 L238.8,906.6 L241,895.6 L243,912.1 L245.8,927.7 L247.6,919.4 L249.8,921.3 L251.6,877.3 L252.9,855.7 L254.4,871.8 L255.8,927.1 L258.6,923.1 L262.3,922.2 L265,916.7 L266.8,928.6 L269.6,924 L271.8,922.2 L274.2,924.9 L276.5,912.5 L278.7,921.3 L281.5,919.4 L284.2,922.2 L286.1,921.3 L287.9,920.3 L289.7,926.8 L292.5,927.1 L294.3,921.3 L295.8,908.8 L297.4,925.8 L299.8,903.9 L301.7,926.8 L303.5,923.1 L305.9,875.4 L307.7,875.8 L309,921.3 L310.8,912.1 L312.6,923.1 L314.5,895.6 L315.8,912.1 L317.2,748.1 L318.7,912.1 L320.5,895.6 L322.7,885 L324.6,906.6 L326.4,919.4 L328.2,913.9 L330.4,913 L332.8,922.2 L335.2,928.6 L337.4,923.1 L340,924.3 L341.6,919.6 L343.7,922.2 L345.7,923.3 L348.1,929.4 L350.2,922.9 L352.2,924.3 L354.3,915.5 L356.3,919.2 L358.3,930.4 L360.4,928.3 L362.8,912.1 L364.4,909 L365.9,902.5 L368.1,910 L370.1,931.4 L372.6,926.3 L374.6,909 L375.8,890.3 L377.3,924.3 L378.7,923.3 L380.7,928.3 L382.4,928.3 L383.6,917.6 L385.2,927.3 L387.9,915.1 L390.3,912.7 L392.5,923.3 L394.6,920.2 L396.6,919.6 L399,924.3 L401.1,928.3 L404.1,929.4 L406.2,920.2 L408.8,923.3 L410.9,923.3 L413.3,929.4 L415.7,930.4 L417.8,917.1 L419.4,920.2 L421.4,911 L423.1,909.4 L424.5,911 L426.5,926.3 L429.6,924.3 L432,924.9 L434.1,922.2 L435.7,916.1 L437.3,925.3 L439.8,919.2 L441.8,921.2 L443.8,916.7 L446.3,920.2 L448.9,927.3 L451,930.4 L453.6,923.3 L455.7,920.8 L458.1,922.2 L460.5,926.9 L461.8,924.3 L463.2,905.3 L465.2,916.7 L467.3,920.2 L469.3,924.3 L470.9,911 L472.8,919.2 L474.4,915.5 L477.4,914.1 L479.7,900.9 L481.5,919.2 L483.6,926.3 L485,902.9 L486,887.6 L487.6,908 L489.3,906.6 L490.7,927.3 L492.3,908 L493.7,924.3 L495.2,930.4 L497.8,928.3 L499.8,929.4 L502.1,887.6 L503.9,927.3 L506,931.4 L509,930.4 L511.7,926.3 L513.7,832 L515.5,928.3 L517.6,930.4 L519.6,920.2 L521.2,929.4 L523.3,917.1 L524.9,900.9 L526.9,924.3 L529,930.4 L531,908 L533,923.3 L535.5,926.3 L537.9,900.9 L539.5,930.4 L542,923.3 L543.6,924.3 L545.7,927.3 L547.3,882.5 L548.9,744.1 L550.7,882.5 L551.8,930.4 L553.8,920.2 L555.8,923.3 L557.5,926.3 L559.5,927.3 L561.9,929.4 L564,930.4 L565.6,924.3 L568.1,927.3 L571.1,929.4 L574.2,931.4 L576.6,924.3 L578.2,925.3 L580.3,919.2 L582.3,894.8 L583.5,878.1 L585,911 L586.8,922.2 L588.4,908 L590,902.5 L592.1,911 L594.5,906 L596.2,924.3 L598.2,915.1 L599.6,906 L601,900.5 L602.7,922.2 L604.7,917.1 L606.3,910.6 L608.4,924.3 L610.4,920.2 L612.9,914.1 L615.3,919.2 L617.9,925.3 L620,926.9 L622,916.7 L624,923.3 L627.1,928.3 L629.1,929.4 L631.6,931.4 L634.2,927.3 L637.3,925.7 L640.3,929.4 L642.4,929.4 L644.4,923.3 L647.5,924.3 L651.5,924.3 L653.6,929.4 L656,910.6 L657.6,927.3 L660.7,924.3 L662.7,927.3 L665.8,931.4 L668.2,924.3 L670.9,914.7 L672.9,920.2 L676,927.3 L678,929.4 L680.5,925.3 L683.1,928.3 L685.1,924.3 L687.2,930.4 L689.8,926.3 L691.9,922.2 L694.3,927.3 L696.7,926.3 L698.6,931 L701.2,928.3 L703.2,927.3 L705.3,929.4 L707.3,928.3 L710,931.4 L712.4,931 L715.5,930.4 L717.5,920.2 L719.5,930.4 L722.6,929.4 L725.6,922.2 L728.3,923.3 L730.7,926.3 L732.4,931 L734.8,929.4 L737.9,925.7 L740.5,928.3 L743.3,931.4 L746.6,926.9 L749,929.4 L750.3,919.2 L751.5,895.8 L752.7,919.2 L754.1,931.4 L757.2,930.4 L760.2,927.7 L763.3,928.3 L767,931.4 L768.4,917.1 L769.8,907.4 L771.4,919.2 L773.5,928.3 L775.9,925.7 L778.6,929.4 L780.6,924.3 L783.3,930.4 L785.3,927.3 L787.5,911.4 L789.4,931.4 L791.8,929 L794.3,923.3 L796.3,925.3 L797.9,912.1 L799.1,906.6 L801,928.3 L803,930.4 L805,926.3 L806.7,916.7 L808.5,926.3 L811.2,930.4 L813.2,931.4 L816.2,927.3 L818.7,924.3 L820.3,902.9 L821.3,892.3 L822.8,919.2 L824,921.2 L826,915.1 L827.6,919.2 L830.5,910 L832.5,910.6 L835,927.3 L837,902.9 L838.8,890.3 L840.7,902.9 L842.7,915.5 L844.3,914.7 L845.8,931.4 L847.8,925.3 L849.4,921.2 L851.3,924.3 L853.3,921.2 L856,925.3 L857.8,931.4 L860.6,925.3 L862.7,925.7 L864.7,931 L867.1,929.4 L869.2,931.8 L871.6,930.4 L873.3,927.3 L875.7,929.8 L878.3,930.4 L881.4,931.8 L883.8,926.3 L886.1,920.8 L887.9,929.4 L889.5,926.3 L892,931 L894.6,931.4 L897.3,926.3 L899.3,922.2 L901.8,928.3 L904.2,931.8 L905.8,919.2 L907.1,895.8 L908.7,924.3 L910.9,930.4 L913,928.3 L915.6,931.8 L917.6,923.3 L918.9,920.2 L920.1,925.3 L922.1,896.8 L923.8,878.9 L925.8,921.2 L927.8,892.7 L929.3,854 L930.3,844.9 L931.5,870.3 L933.3,913.1 L935.2,906.6 L936.8,925.3 L939.4,930.4 L941.5,924.3 L943.3,921.2 L945.5,929.4 L948.2,931.8 L950.2,919.2 L951.7,896.8 L953.1,884.2 L954.7,907 L956.7,921.2 L959.2,928.3 L961.4,931.4 L963.5,921.2 L964.9,918.8 L966.5,927.3 L968.6,913.1 L970.6,897.2 L972.2,904.9 L973.8,888.2 L975.5,896.8 L977.1,886.6 L978.7,883.6 L980.2,907 L982.2,926.3 L984.2,928.3 L987.3,919.2 L989.3,911 L991,909 L993,917.1 L994.4,927.3 L996.4,913.1 L998.5,870.3 L999.9,845.9 L1001.5,870.3 L1003.6,917.1 L1005.6,930.4 L1007.6,925.3 L1009.7,914.1 L1011.5,907 L1013.8,917.1 L1016.8,927.3 L1018.8,924.3 L1020.9,923.3 L1022.9,928.3 L1025.6,930.4 L1028,931.8 L1031.1,929.4 L1033.7,921.2 L1035.3,918.8 L1037.2,923.3 L1039.2,931.8 L1042,929.4 L1044.1,924.9 L1046.1,926.3 L1048.1,921.2 L1050.2,930.4 L1052.6,931.4 L1055.3,930.4 L1057.3,931.8 L1059.8,925.7 L1062,930.4 L1064,923.3 L1066.1,914.1 L1068.1,921.2 L1070.1,909 L1071.4,906.6 L1073,925.3 L1075,917.1 L1077.7,900.9 L1079.7,919.2 L1081.7,913.1 L1083.8,925.3 L1085.2,919.2 L1086.4,882.5 L1087.4,858.5 L1088.9,882.5 L1090.9,902.9 L1093.3,898.4 L1095.4,919.2 L1097,924.3 L1099,919.2 L1101.1,915.1 L1103.1,882.5 L1104.3,801.1 L1105.2,752.6 L1106,821.4 L1107.2,924.3 L1108.8,894.8 L1110.2,868.3 L1111.7,898.8 L1113.3,909 L1115.3,908.6 L1117.4,913.1 L1119.8,925.3 L1121.4,913.1 L1122.7,888.6 L1124.3,915.1 L1126.5,924.3 L1128.6,926.3 L1130.6,931.4 L1133.3,923.3 L1135.3,915.1 L1137.7,903.9 L1139.4,931.8 L1141.8,929.4 L1143.8,919.2 L1145.7,886.6 L1147.5,913.1 L1149.3,897.2 L1151.4,913.1 L1153,882.5 L1154.4,801.1 L1155.7,651 L1157.1,801.1 L1158.1,870.3 L1160.1,909 L1162.6,919.2 L1164.2,925.3 L1166.2,907 L1168.7,876 L1170.3,900.9 L1172.4,907 L1174.8,919.2 L1176.8,925.3 L1179.5,908 L1181.5,915.5 L1183.6,923.3 L1185.6,926.3 L1188.2,931.4 L1189.9,882.5 L1190.9,861.2 L1192.7,886.6 L1194.8,913.1 L1195.8,909 L1197.2,925.3 L1198.8,913.1 L1200.9,914.1 L1202.9,908 L1205.3,900.9 L1207,874.4 L1207.8,867.3 L1209,902.9 L1210.6,917.1 L1212.1,904.9 L1213.5,902.5 L1215.5,913.1 L1218.2,919.2 L1220.2,929.4 L1222.2,923.3 L1223.7,913.1 L1225.3,925.3 L1227.3,924.9 L1229.8,928.3 L1232.4,931.4 L1235.1,930.4 L1237.5,929 L1240.6,931 L1243.6,931 L1245.7,917.1 L1247.7,902.9 L1249.3,892.7 L1251.4,909 L1253.8,926.3 L1255.4,928.3 L1257.5,909 L1258.7,899.2 L1260.3,902.9 L1261.5,891.7 L1262.8,884.2 L1264.4,902.9 L1265.6,931.4 L1268.1,931.8 L1271.1,930.4 L1273.8,931 L1277.2,932.2 L1279.9,927.3 L1281.9,924.3 L1283.9,923.3 L1286,930.4 L1288.8,931.8 L1292.1,931.4 L1294.5,926.3 L1296.6,915.1 L1297.8,912.7 L1299.6,925.3 L1301.7,920.2 L1303.1,917.1 L1305.1,927.3 L1307.8,930.4 L1310.8,931.8 L1313.9,930.4 L1315.3,920.2 L1316.9,919.2 L1318.1,912.1 L1319.2,909 L1320.6,919.2 L1322.6,931 L1325.1,928.3 L1328.1,929.4 L1331.2,930.4 L1333.6,927.3 L1335.7,902.9 L1337.3,882.5 L1338.7,873.4 L1339.9,898.8 L1341.4,924.3 L1343.4,923.3 L1345,931 L1347.1,923.3 L1348.5,918.2 L1350.5,921.2 L1352.6,913.1 L1354.6,916.1 L1356.6,927.3 L1358.1,923.3 L1359.7,907 L1361.3,906 L1362.7,925.3 L1365.8,928.3 L1368.8,931.8 L1371.5,929.4 L1373.9,902.9 L1375.6,878.5 L1377.6,868.3 L1379.2,913.1 L1380.5,917.1 L1381.9,873.4 L1383.7,907 L1385.7,923.3 L1387.8,912.1 L1389.2,909.4 L1390.6,919.2 L1392.3,902.9 L1393.7,889.7 L1395.7,902.9 L1397.7,924.3 L1400.2,929.4 L1402.6,931.8 L1404.7,927.3 L1406.7,909 L1408.3,892.7 L1410,896.8 L1411.2,892.3 L1412.8,919.2 L1414.4,926.3 L1416.5,909.4 L1418.5,926.3 L1421,929.4 L1423,931.8 L1425.6,928.3 L1427.7,919.6 L1429.7,923.3 L1431.9,918.8 L1434,928.3 L1435.8,931.8 L1437.9,923.3 L1439.5,892.7 L1440.9,926.3 L1443.3,930.4 L1445.4,921.2 L1447.4,915.1 L1449,882.5 L1450.1,814.9 L1451.5,882.5 L1452.1,907 L1453.7,881.5 L1455.2,907 L1457.2,910 L1459.6,925.3 L1461.3,921.2 L1463.3,914.7 L1465.7,919.2 L1468.4,921.2 L1469.8,931.4 L1472.5,921.2 L1475.1,915.5 L1477.1,923.3 L1479.2,915.1 L1480.6,928.3 L1482.6,927.3 L1484.1,902.9 L1485.3,821.4 L1486.1,787.9 L1487.7,776.7 L1489,837.7 L1489.8,801.1 L1491,774.6 L1491.8,841.8 L1493,909 L1494.3,915.5 L1495.9,882.5 L1497.9,854 L1499.1,902.9 L1500.4,907 L1502,876.4 L1503.6,920.2 L1505,902.9 L1506.5,854 L1507.7,823.1 L1509.1,854 L1510.5,872.4 L1512.2,886.6 L1514.2,913.1 L1516.2,926.3 L1518.3,909 L1519.9,902.5 L1521.9,910 L1524.4,911.4 L1526.8,927.3 L1528.9,919.2 L1530.5,902.9 L1531.7,892.7 L1533.1,915.1 L1534.6,918.2 L1535.8,894.8 L1536.6,884.2 L1538,907 L1539.7,892.7 L1540.9,881.5 L1542.7,908 L1544.3,900.9 L1546.4,887.6 L1547.8,909 L1549.2,921.2 L1550.9,882.5 L1551.9,841.8 L1552.7,821.4 L1554.1,878.5 L1555.3,868.3 L1556.6,880.5 L1557.8,862.2 L1558.8,844.9 L1560,882.5 L1561,924.3 L1562.7,926.3 L1564.3,919.2 L1565.5,915.1 L1566.7,905.3 L1568.8,919.2 L1570.2,927.3 L1572.2,925.3 L1574.3,925.7 L1576.5,910 L1578.3,925.3 L1581,924.3 L1583,927.3 L1585.1,931 L1587.5,927.3 L1590.6,927.3 L1593.2,931.4 L1595.7,927.3 L1597.7,919.2 L1599.3,913.5 L1601,927.3 L1603.4,930.4 L1606.2,932.2 L1608.9,926.3 L1611.5,930.4 L1614,924.9 L1616,931.8 L1618.5,932.2 L1621.1,928.3 L1623.8,930.4 L1626.6,919.6 L1628.6,928.3 L1631.3,931.4 L1633.9,921.2 L1635.4,918.8 L1636.8,919.2 L1638.4,910 L1640,919.2 L1642.1,926.3 L1644.1,920.2 L1646.2,917.1 L1648.2,910.6 L1650.2,919.2 L1652.7,931.8 L1655.7,930.4 L1658.4,929.4 L1660,917.1 L1661.2,912.7 L1662.9,926.3 L1665.3,930.4 L1667.3,919.2 L1669.4,918.8 L1671,926.3 L1673.4,921.2 L1675.5,913.5 L1677.1,914.1 L1679.1,926.3 L1681.6,931.4 L1683.6,929.4 L1686.3,932.2 L1689.3,928.3 L1691.8,931.4 L1694.4,927.3 L1697.1,932.2 L1699.9,930.4 L1702.6,931.4 L1705.6,932.2 L1708.7,932.2 L1710.7,930.4 L1711.7,907 L1712.7,886.6 L1714.2,923.3 L1715.4,930.4 L1717.4,923.3 L1719.5,930.4 L1722.3,924.9 L1725,929.4 L1727,929.4 L1728.4,902.9 L1729.4,892.7 L1730.7,919.2 L1732.1,932.2 L1734.5,927.3 L1737.8,926.3 L1739.4,915.1 L1740.6,897.8 L1742.3,919.2 L1743.9,926.3 L1744.5,923.3 L1747.1,907.4 L1749.2,925.4 L1751.8,930.5 L1754.3,932.2 L1756.7,929.4 L1759.4,930.5 L1761.4,918.9 L1763.4,923.3 L1764.9,930.5 L1767.5,907 L1769.5,905 L1771,908.1 L1773,909.5 L1774.6,919.3 L1776.3,927.4 L1778.3,913.1 L1779.9,898.5 L1781.6,898.9 L1783.2,917.2 L1784.4,923.3 L1785.8,895.8 L1787.9,919.3 L1789.9,920.3 L1791.9,916.8 L1794,913.1 L1796,913.6 L1798.1,919.3 L1800.1,928.4 L1802.1,923.3 L1803.6,920.3 L1805.6,928.4 L1808.2,931.1 L1810.9,931.9 L1813.3,927.4 L1815,930.5 L1817,927.8 L1818.4,930.5 L1819.9,927.4 L1821.9,931.9 L1823.5,913.1 L1824.7,888.7 L1826.6,913.1 L1828,920.3 L1829.6,894.8 L1831.1,888.3 L1832.7,923.3 L1834.7,928.4 L1836.8,926.4 L1838.8,926.4 L1840.2,931.5 L1842.9,931.1 L1845.9,931.1 L1848,929.4 L1849,918.9 L1850.4,925.4 L1852,903 L1854.1,884.6 L1855.9,878.1 L1857.1,903 L1858.1,919.3 L1860.2,890.3 L1861.8,901.9 L1863.2,890.7 L1864.7,872.4 L1865.9,859.8 L1867.3,915.2 L1869.4,916.2 L1871.4,903 L1872.8,898.9 L1874,900.9 L1875.5,914.2 L1877.5,919.3 L1878.9,929.4 L1880,929.1 L1881.6,925 L1883.3,923.4 L1884.9,903.8 L1886.8,881 L1888.5,894.1 L1889.8,927.5 L1891.4,927.5 L1893,877.8 L1894.3,820.7 L1895.2,802 L1896.3,833.8 L1897.6,873.7 L1899.2,874.5 L1900.9,910.3 L1902.8,921.8 L1905.3,913.6 L1906.9,900.6 L1908.5,871.2 L1909.7,812.6 L1910.6,771.9 L1911.4,820.7 L1912.6,897.3 L1914.2,897.3 L1915,845.2 L1916.2,796.3 L1917.1,780 L1917.8,775.1 L1919.1,793 L1920.4,817.5 L1921.4,799.6 L1922,780 L1922.7,560 L1923.2,134 L1924.6,134 L1925,454.1 L1925.5,780 L1925.8,908.7 L1926.6,842.7 L1927.6,850.1 L1928.9,864.7 L1930.2,859.8 L1931.8,895.7 L1933.4,884.3 L1934.6,903.8 L1936.2,921.8 L1937.4,871.2 L1938.3,828.1 L1939.6,836.2 L1941.9,840.3 L1942.9,871.2 L1943.4,894.1" fill="none" stroke="#3d4352" stroke-width="1.3" stroke-linejoin="round"/>
<path d="M96.1,748.3 L98.6,742.7 L100.3,745.9 L102.7,725.6 L104.7,731.7 L108.3,724.4 L112,729.3 L115.2,734.2 L117.4,730.5 L118.8,719.5 L120.3,718.8 L123,729.3 L124.7,756.2 L126.7,801.4 L127.9,773.3 L129.1,775.7 L132,792.8 L134,785.5 L137.7,787.4 L141.3,786.7 L143.3,792.8 L145.7,803.8 L148.6,789.2 L152.3,791.6 L154.8,792.3 L157.2,795.3 L159.6,779.4 L163.3,781.8 L167,780.6 L169.4,783 L173.1,778.6 L178,779.4 L180.9,769.6 L183.3,769.6 L186.5,785.5 L188.5,786.7 L190.7,791.6 L192.6,784.3 L197.5,785.5 L201.9,784.3 L205.3,789.2 L209.7,790.4 L214.6,786.7 L219.5,783 L223.9,780.6 L226.8,774.5 L229.3,756.2 L233,722 L235.9,723.2 L237.3,720.7 L239.5,726.4 L242.7,700 L246.4,697.5 L248.8,701.2 L250.8,695.1 L256.2,696.3 L256.9,687.7 L258.6,698.7 L262.3,687.7 L266.4,691.4 L270.8,699.5 L272.8,693.9 L276.2,713.4 L281.8,711 L285.5,681.6 L288.4,676.7 L290.4,679.2 L293.3,675.5 L297.7,685.3 L300.2,693.9 L303.8,690.2 L305,693.9 L307.5,688.5 L311.1,704.4 L315.3,703.6 L318.5,711 L320.9,730.5 L322.6,733 L324.6,717.1 L326.5,682.9 L328.3,675.5 L330.7,680.4 L333.9,647.4 L336.3,640.1 L339.2,642.5 L340,640.2 L341.3,647.7 L343.1,637 L344.4,646.4 L346.3,645.2 L347.8,640.8 L349.4,648.9 L351,649.5 L351.9,648.3 L353.2,637.7 L354.4,640.2 L355.7,636.4 L357.5,636.1 L359.4,638.3 L361.3,643.3 L363.2,638.9 L365,640.2 L367.6,642 L369.4,641.4 L371.3,636.4 L373.2,618.9 L375.1,621.4 L376.9,617.6 L378.6,616.4 L380.1,617.6 L382.6,618.2 L383.6,626.4 L384.8,617.6 L386.6,631.4 L388.2,638.9 L390.1,647.7 L392,642.7 L394.5,645.8 L396.4,637.7 L398.2,636.4 L400.1,626.4 L402.6,627.6 L404.5,627.6 L406.4,639.5 L408.6,632.6 L410.8,631.4 L412.6,625.1 L415.1,632.6 L418.3,643.3 L421.4,645.2 L422.7,652.1 L425.2,653.3 L427.7,652.1 L429.5,648.3 L430.8,648.9 L432.1,646.4 L433.9,653.3 L435.8,652.1 L437.4,649.5 L439.6,653.9 L441.7,648.3 L443.3,658.3 L445.8,655.8 L448.7,652.4 L450.5,639.5 L452.1,643.3 L453.7,643.3 L456.5,652.7 L458.4,648.3 L460.9,650.2 L463,664.6 L464.6,648.3 L466.5,657.7 L467.7,655.8 L470.3,656.4 L471.3,663.3 L473.4,663 L475.9,663 L477.8,671.5 L479,668.3 L480.9,658.3 L482.8,656.4 L484.7,658.3 L486.3,653.3 L487.8,637.7 L489,621.4 L490.3,620.1 L491.8,615.1 L494.1,615.7 L497.2,617.6 L499.1,614.1 L500.3,620.4 L502.2,617.4 L504.7,616.4 L507.2,615.1 L508.8,610.3 L510.3,613.9 L513.1,621.4 L515.3,618.2 L518.1,619.9 L521,615.4 L523.1,617 L524.7,607.8 L526.9,617.9 L530.4,618.6 L533.5,621.6 L536.6,622.4 L539.1,622.4 L540.8,620.1 L542.3,629.1 L545.4,628.3 L549.2,627.6 L551.7,628.6 L554.2,628.3 L555.7,623.9 L557.9,628.9 L561.1,630.4 L564.8,629.9 L566.9,622.6 L569.2,625.8 L573,626.4 L574.8,627.6 L577.3,626.4 L579.8,632.6 L581.1,647.7 L582,656.4 L583.2,660.8 L586.1,660.2 L588,660.2 L589.5,661.7 L591.1,657.4 L593,660.2 L595.5,661.6 L598.8,660.9 L600.6,643.3 L602.5,646.6 L604.3,662.2 L607.4,662.2 L610.2,663.5 L613.5,664 L615.7,659.4 L617.5,663.1 L620.2,664 L622.3,671.4 L624.8,661.3 L626.7,655.8 L629.4,655.4 L632.5,655.8 L635.4,648.4 L638,655.4 L641.3,655.8 L644.1,659.1 L647.2,658.5 L649.6,650.6 L652.3,651.2 L654.5,641.1 L656.9,645.7 L658.7,642.9 L660.6,645.7 L663.3,640.7 L665.5,641.1 L669.2,647.5 L672.1,653.6 L674.7,652.5 L676.5,649.4 L678.9,636 L681.6,636.5 L683.5,634.7 L685.3,623.2 L688,621 L689.9,595.3 L691.7,586.1 L693.5,581.6 L696.3,585.2 L699.6,580.6 L702.2,579.7 L704.5,573.7 L707.3,579.2 L710,577 L713.2,576.6 L715.5,571.8 L718.3,561.4 L720.5,559 L723.4,564.1 L725.6,572.4 L727.4,554.1 L728.9,566.3 L732,564.1 L734.8,558.3 L737,569.6 L738.8,559 L742.1,555.3 L746.7,559 L751.3,554.1 L754,545.8 L756.4,538.9 L758.6,522 L760.4,511.9 L762.3,515.6 L764.1,511 L767.4,514.3 L769.6,530.2 L772.3,519.2 L775.1,522 L777.8,527.1 L780.2,522.4 L782.1,522 L784.6,514.3 L787.6,512.5 L790.7,516.9 L792,514.7 L793.8,521.6 L795.6,516.9 L798.9,524.2 L802.2,522.9 L803.5,511.9 L805.3,507 L807.2,518.3 L809,511.9 L812.7,511.9 L814.5,500.9 L816.7,495.4 L818.7,495.4 L820.8,516.8 L822.8,520.9 L824.8,526 L828.1,517.8 L830.5,529.5 L833.6,528 L836.3,529 L837.9,543.3 L839.9,539.2 L842.4,539.6 L844.4,526 L847.3,525 L848.5,516.8 L851.3,520.9 L855,517.8 L859.1,521.3 L861.5,516.8 L864.8,502.6 L867.6,489.3 L869.7,486.3 L871.3,476.5 L872.9,476.1 L874.9,465.5 L878.4,464.3 L880.4,465.5 L881.9,463.5 L883.9,464.9 L885.5,463.9 L889.2,471.6 L892.7,465.9 L894.7,445.5 L896.1,429.2 L897.4,413 L899.4,415.4 L900.8,413.4 L902.9,414 L904.3,407.9 L905.9,386.5 L907.1,405.8 L909,397.7 L912,387.5 L914.5,384.4 L916.5,372.2 L918.1,372.6 L920.2,368.1 L922.2,375.3 L924.2,385.5 L925.5,399.7 L926.7,386.5 L928.3,398.7 L929.9,415 L931.4,388.5 L933.4,401.8 L935.4,407.3 L937.5,395.6 L939.5,380.4 L942.2,379.3 L944.2,380.4 L945.4,377.3 L947,380.4 L949.7,374.3 L951.1,382.4 L953.2,399.1 L954.8,397.7 L955.8,386.9 L958.9,384.4 L961.3,378.7 L962.5,373.2 L964.6,382.4 L966.6,379.3 L968.6,390.5 L970.7,403.8 L972.3,398.7 L974.7,408.9 L976.8,418 L978.8,408.9 L981.3,403.8 L983.7,401.8 L984.9,393 L986.6,394.6 L988.4,402.8 L993.1,407.3 L995.9,406.4 L998,421.1 L999.6,431.7 L1001.6,429.2 L1003.7,412.5 L1005.7,405.2 L1008.1,408.9 L1010.8,416.6 L1012.2,409.9 L1013.8,420.1 L1016.3,420.7 L1018.9,411.3 L1020.4,416.6 L1022,402.8 L1023.6,395.6 L1025.3,391.6 L1027.1,392.6 L1029.1,395.6 L1030.8,374.3 L1032.6,379.3 L1035.2,388.1 L1038.7,383.4 L1040.3,385.5 L1042,382.4 L1044,388.5 L1045.4,386.5 L1048.1,390.5 L1052.1,389.5 L1054.2,379.3 L1056.2,375.3 L1058.2,377.3 L1060.3,382.8 L1063.1,381.4 L1064.8,384.4 L1066.4,390.5 L1067.8,388.5 L1070.9,396.3 L1073.9,393.6 L1076.6,395 L1078.6,400.7 L1082.1,403.2 L1085.1,407.9 L1087.2,422.1 L1089.2,416.6 L1090.8,420.1 L1092.3,418 L1094.3,422.1 L1096.3,416 L1097.8,410.9 L1100.8,415.8 L1103.4,437.1 L1105.2,439.3 L1106.8,433.7 L1108.4,444.5 L1111.3,433.7 L1114.2,436 L1116.9,432.6 L1119.6,421.4 L1121.4,401.2 L1123.6,400.6 L1125.4,405 L1127.6,393.4 L1130.3,387.1 L1133,391.6 L1135.9,399 L1138.2,395.6 L1140.4,387.1 L1142.7,387.8 L1145.6,395.6 L1147.8,402.4 L1148.9,399.7 L1150.5,418 L1152.7,427 L1155.4,453.9 L1157.2,444.9 L1158.6,448.3 L1159.9,416.9 L1162.1,418.5 L1165.1,429.2 L1168,422.1 L1171.1,435.5 L1174,427.4 L1176.3,429.2 L1178.5,425.9 L1180.7,419.2 L1182.3,422.5 L1184.5,405 L1187.5,404.6 L1190.4,427 L1194.2,428.8 L1197.1,429.2 L1198.7,437.1 L1200.2,428.8 L1202,434.8 L1204.3,433.7 L1207.6,453.9 L1209.9,450.5 L1212.8,436 L1215.9,435.5 L1218.2,422.1 L1220.4,424.3 L1223.3,432.6 L1225.5,422.5 L1227.8,410.9 L1231.2,408.6 L1234.5,406.8 L1236.8,404.1 L1237.9,409.1 L1240.1,399.7 L1242.8,397.4 L1245,400.6 L1247.3,419.2 L1249.5,421.4 L1253.1,414.7 L1255.8,410.9 L1258.5,415.3 L1261.4,422.5 L1264.3,411.8 L1267,409.1 L1268.8,395.6 L1271.5,390 L1274.2,390 L1277.8,384.4 L1280.4,391.2 L1283.8,392.3 L1284.9,387.8 L1286.7,394.5 L1289.9,387.8 L1292.1,377.7 L1293.4,369.9 L1295,371 L1296.6,379.9 L1299.5,383.3 L1302.4,389.4 L1304.6,382.2 L1305.5,358.7 L1308.4,355.3 L1311.4,353.5 L1312.9,339.6 L1314.5,312.7 L1316.3,309.4 L1317.4,307.1 L1319,316.1 L1321.2,304.9 L1324.1,308.7 L1327,300.4 L1329.3,290.3 L1330.9,283.2 L1332.4,282.5 L1334.7,285.8 L1336.5,299.3 L1338.2,302.7 L1339.8,291.4 L1342.7,285.8 L1344.3,289.2 L1346.5,288.1 L1349.4,290.8 L1351.7,281.4 L1353.3,287 L1354.8,278.7 L1357.1,278 L1358.4,275.1 L1360,285.8 L1361.5,288.5 L1362.9,275.8 L1365.1,275.1 L1367.8,273.5 L1369.6,264.6 L1371.4,262.3 L1372.7,265.7 L1374.1,276.9 L1375.7,284.7 L1377.9,285.4 L1380.1,292.6 L1381.3,293 L1383.1,283.6 L1385.3,281.4 L1387.5,293.7 L1389.5,293.5 L1391.4,298 L1393.2,300.4 L1395.6,298 L1398.3,288.9 L1400.5,284.3 L1402.9,283.4 L1404.7,273.3 L1407.1,288.9 L1410.2,300.8 L1411.5,294.9 L1413.9,295.3 L1416.7,294.9 L1419.4,279.2 L1420.7,277.9 L1422.5,267.4 L1424.3,266.9 L1426.2,273.7 L1427.6,273.7 L1429.1,262.3 L1430.9,267.8 L1433.1,265.1 L1435.9,265.6 L1438.3,272.4 L1440.1,275.1 L1442.3,266.9 L1443.8,265.6 L1446,272.4 L1448.7,285.8 L1450,274.2 L1451.8,286.1 L1453.7,288.9 L1457,288.9 L1460.6,288.9 L1461.6,286.5 L1462.8,291.6 L1464.3,285.8 L1466.1,288 L1468.9,285.2 L1471.3,289.4 L1474.4,291.3 L1476.2,289.8 L1478,283.4 L1479.9,289.8 L1482.6,289.4 L1484.5,302.6 L1486.3,314.5 L1487.8,327.4 L1490,326.5 L1491.8,321.9 L1494,294.9 L1495.1,320.6 L1496.4,319.1 L1498.2,306.7 L1500,308.1 L1502.4,320 L1504.3,320.6 L1506.1,339.3 L1507.6,346.6 L1508.6,332.9 L1510.5,329.7 L1511.6,338.4 L1513.4,329.2 L1515.2,326.8 L1517.4,329.2 L1518.9,332.3 L1520.2,332.3 L1521.5,318.8 L1523.9,328.3 L1526.6,328.6 L1528.8,318.2 L1530.6,316.4 L1533,317.3 L1535.4,317.7 L1537.2,328.3 L1538.5,333.4 L1540.9,333.8 L1542.7,324.3 L1544.6,332.9 L1547.1,329.2 L1549,330.5 L1550.4,346.6 L1552.3,347.5 L1554.1,355.8 L1555.9,332.9 L1557,342.9 L1558.7,330.1 L1560.5,324.3 L1562.9,328.3 L1565.1,327.4 L1566.6,329.2 L1568.8,325.5 L1570.6,326.5 L1573.3,324.3 L1575.2,317.3 L1576.5,299 L1578.8,297.1 L1581.6,294.4 L1583.8,293.8 L1585.3,296.2 L1587.1,293.5 L1588.9,296.2 L1591.1,288.9 L1593,287.6 L1594.8,289.8 L1596.2,294.9 L1598.1,293.5 L1599.9,288 L1601.4,286.1 L1602.7,269.6 L1605,265.6 L1607.2,267.8 L1608.7,270.6 L1610.5,267.8 L1612.7,269.6 L1614.6,268.7 L1616.8,270 L1618.6,261.4 L1621,262.3 L1622.8,258.6 L1624.7,247.3 L1626.5,258.6 L1629.2,256.8 L1631.1,253.5 L1633.3,254.1 L1635.7,259.6 L1638,267.4 L1640.6,264.1 L1643,262.3 L1645.4,264.5 L1647.9,274.2 L1649.8,266.9 L1651.6,263.2 L1653.1,263.2 L1654,250.4 L1655.8,250.4 L1657.6,255 L1659.5,263.2 L1662.2,263.2 L1665,260.5 L1666.8,264.1 L1669.2,265.1 L1671.4,266 L1673.6,273.3 L1675.4,275.1 L1677.3,264.1 L1679.2,261 L1680.4,258 L1682.5,259.5 L1684.5,258.7 L1686.5,256 L1688.3,258 L1690.2,263.3 L1691.4,257.2 L1692.9,251.9 L1694.4,257.2 L1696.3,254.9 L1698.3,252.9 L1699.8,256.4 L1701.8,254.2 L1702.8,248 L1704.4,235.8 L1705.9,233.1 L1707.9,232 L1709.4,229 L1711.2,227.1 L1712.8,232 L1715.1,228.2 L1717.4,230.5 L1719.6,232.8 L1721.9,234 L1723.8,226.7 L1725.8,229.4 L1728,232 L1730.3,233.5 L1731.9,228.2 L1734.2,230.9 L1737.2,232 L1739,236.6 L1741,245.3 L1742.6,243.2 L1744.1,239.6 L1746.4,241.2 L1748.7,238.9 L1750.2,232.8 L1752.2,235.5 L1754.3,228.2 L1756.3,230.5 L1758.3,229 L1760.1,218.3 L1761.3,231.2 L1763.5,232.5 L1765.9,232.8 L1768.1,235.8 L1770.1,244.7 L1771.6,243.8 L1772.3,245.8 L1774.2,234.3 L1776.2,237.4 L1778.2,243.5 L1779.7,251.9 L1781.5,247.3 L1783.8,245.8 L1785.8,256.4 L1789.1,256 L1791.4,249.6 L1793.4,247.3 L1796,249.6 L1799.1,251.4 L1801.1,246.5 L1802.9,247.7 L1804.7,241.2 L1806.7,236.6 L1808.7,235.8 L1810.5,237.4 L1812.8,238.9 L1814.8,235.1 L1817,235.5 L1818.5,233.5 L1820.5,237.4 L1822,237.7 L1824,241.2 L1825.5,245 L1828.1,243.5 L1829.2,254.2 L1831.2,252.9 L1832.7,252.6 L1834.7,245.3 L1836.5,241.2 L1838,241.9 L1838.8,230.5 L1840.3,224.4 L1841.8,221.3 L1844.1,220.6 L1845.7,218.3 L1847.2,216 L1848.4,222.8 L1849.9,218.3 L1851.8,219.8 L1853,225.9 L1854.1,241.9 L1855.6,249.9 L1857.1,238.9 L1858.7,238.1 L1860.6,245 L1862.8,253.4 L1865.5,261.8 L1867.8,257.2 L1869.8,249.6 L1871.3,256 L1873.5,258 L1875.5,251.1 L1877.4,248.8 L1879.6,239.6 L1881.6,240.4 L1883.6,245.8 L1886.1,256 L1888.1,251.9 L1890.7,249.6 L1892.3,257.2 L1893.3,266.4 L1894.5,274.8 L1895.8,266.4 L1897.6,275.5 L1898.8,269.4 L1900.4,272.5 L1902.2,264.8 L1904,261.8 L1906,269.4 L1908,277.1 L1909.5,283.2 L1910.6,293.9 L1912.6,291.6 L1914.4,296.2 L1915.9,302.3 L1917.5,299.7 L1919,306.1 L1920.5,316.8 L1922.4,323.7 L1923.6,326 L1925.1,318.3 L1926.3,316 L1927.9,316.8 L1929.4,310.7 L1930.9,305.3 L1932.7,304.3 L1935,306.9 L1936.6,307.6 L1938.1,320.6 L1939.6,307.6 L1940.7,300.7 L1941.9,298.5 L1943.4,301.2" fill="none" stroke="#000" stroke-width="2.9" stroke-linejoin="round" stroke-linecap="round"/>
<circle cx="1924" cy="133.5" r="3.5" fill="#3d4352"/>
<circle cx="1924" cy="552" r="3" fill="#4a68ea"/>
<circle cx="1924" cy="326.5" r="4.8" fill="#000"/>
<line x1="1957" y1="81.3" x2="1957" y2="933" stroke="#000" stroke-width="3.2"/>
<line x1="161.5" y1="934" x2="161.5" y2="947.5" stroke="#e8e9eb" stroke-width="1.4"/>
<text x="133.2" y="968" font-size="16.6" fill="#3b4252" textLength="56.7" lengthAdjust="spacing" stroke="#3b4252" stroke-width="0.3">Dec &#39;22</text>
<line x1="262.0" y1="934" x2="262.0" y2="947.5" stroke="#e8e9eb" stroke-width="1.4"/>
<text x="234.1" y="968" font-size="16.6" fill="#3b4252" textLength="55.8" lengthAdjust="spacing" stroke="#3b4252" stroke-width="0.3">Feb &#39;23</text>
<line x1="357.7" y1="934" x2="357.7" y2="947.5" stroke="#e8e9eb" stroke-width="1.4"/>
<text x="330.7" y="968" font-size="16.6" fill="#3b4252" textLength="54" lengthAdjust="spacing" stroke="#3b4252" stroke-width="0.3">Apr &#39;23</text>
<line x1="456.5" y1="934" x2="456.5" y2="947.5" stroke="#e8e9eb" stroke-width="1.4"/>
<text x="429.3" y="968" font-size="16.6" fill="#3b4252" textLength="54.5" lengthAdjust="spacing" stroke="#3b4252" stroke-width="0.3">Jun &#39;23</text>
<line x1="555.4" y1="934" x2="555.4" y2="947.5" stroke="#e8e9eb" stroke-width="1.4"/>
<text x="527.1" y="968" font-size="16.6" fill="#3b4252" textLength="56.6" lengthAdjust="spacing" stroke="#3b4252" stroke-width="0.3">Aug &#39;23</text>
<line x1="654.3" y1="934" x2="654.3" y2="947.5" stroke="#e8e9eb" stroke-width="1.4"/>
<text x="627.1" y="968" font-size="16.6" fill="#3b4252" textLength="54.4" lengthAdjust="spacing" stroke="#3b4252" stroke-width="0.3">Oct &#39;23</text>
<line x1="753.2" y1="934" x2="753.2" y2="947.5" stroke="#e8e9eb" stroke-width="1.4"/>
<text x="724.9" y="968" font-size="16.6" fill="#3b4252" textLength="56.7" lengthAdjust="spacing" stroke="#3b4252" stroke-width="0.3">Dec &#39;23</text>
<line x1="853.7" y1="934" x2="853.7" y2="947.5" stroke="#e8e9eb" stroke-width="1.4"/>
<text x="825.8" y="968" font-size="16.6" fill="#3b4252" textLength="55.8" lengthAdjust="spacing" stroke="#3b4252" stroke-width="0.3">Feb &#39;24</text>
<line x1="951.0" y1="934" x2="951.0" y2="947.5" stroke="#e8e9eb" stroke-width="1.4"/>
<text x="924.0" y="968" font-size="16.6" fill="#3b4252" textLength="54" lengthAdjust="spacing" stroke="#3b4252" stroke-width="0.3">Apr &#39;24</text>
<line x1="1049.9" y1="934" x2="1049.9" y2="947.5" stroke="#e8e9eb" stroke-width="1.4"/>
<text x="1022.6" y="968" font-size="16.6" fill="#3b4252" textLength="54.5" lengthAdjust="spacing" stroke="#3b4252" stroke-width="0.3">Jun &#39;24</text>
<line x1="1148.7" y1="934" x2="1148.7" y2="947.5" stroke="#e8e9eb" stroke-width="1.4"/>
<text x="1120.4" y="968" font-size="16.6" fill="#3b4252" textLength="56.6" lengthAdjust="spacing" stroke="#3b4252" stroke-width="0.3">Aug &#39;24</text>
<line x1="1247.6" y1="934" x2="1247.6" y2="947.5" stroke="#e8e9eb" stroke-width="1.4"/>
<text x="1220.4" y="968" font-size="16.6" fill="#3b4252" textLength="54.4" lengthAdjust="spacing" stroke="#3b4252" stroke-width="0.3">Oct &#39;24</text>
<line x1="1346.5" y1="934" x2="1346.5" y2="947.5" stroke="#e8e9eb" stroke-width="1.4"/>
<text x="1318.2" y="968" font-size="16.6" fill="#3b4252" textLength="56.7" lengthAdjust="spacing" stroke="#3b4252" stroke-width="0.3">Dec &#39;24</text>
<line x1="1447.0" y1="934" x2="1447.0" y2="947.5" stroke="#e8e9eb" stroke-width="1.4"/>
<text x="1419.1" y="968" font-size="16.6" fill="#3b4252" textLength="55.8" lengthAdjust="spacing" stroke="#3b4252" stroke-width="0.3">Feb &#39;25</text>
<line x1="1542.7" y1="934" x2="1542.7" y2="947.5" stroke="#e8e9eb" stroke-width="1.4"/>
<text x="1515.7" y="968" font-size="16.6" fill="#3b4252" textLength="54" lengthAdjust="spacing" stroke="#3b4252" stroke-width="0.3">Apr &#39;25</text>
<line x1="1641.6" y1="934" x2="1641.6" y2="947.5" stroke="#e8e9eb" stroke-width="1.4"/>
<text x="1614.3" y="968" font-size="16.6" fill="#3b4252" textLength="54.5" lengthAdjust="spacing" stroke="#3b4252" stroke-width="0.3">Jun &#39;25</text>
<line x1="1740.5" y1="934" x2="1740.5" y2="947.5" stroke="#e8e9eb" stroke-width="1.4"/>
<text x="1712.2" y="968" font-size="16.6" fill="#3b4252" textLength="56.6" lengthAdjust="spacing" stroke="#3b4252" stroke-width="0.3">Aug &#39;25</text>
<line x1="1839.3" y1="934" x2="1839.3" y2="947.5" stroke="#e8e9eb" stroke-width="1.4"/>
<text x="1812.1" y="968" font-size="16.6" fill="#3b4252" textLength="54.4" lengthAdjust="spacing" stroke="#3b4252" stroke-width="0.3">Oct &#39;25</text>
<line x1="1938.2" y1="934" x2="1938.2" y2="947.5" stroke="#e8e9eb" stroke-width="1.4"/>
<text x="1909.9" y="968" font-size="16.6" fill="#3b4252" textLength="56.7" lengthAdjust="spacing" stroke="#3b4252" stroke-width="0.3">Dec &#39;25</text>
<text x="73.5" y="101.2" font-size="16.4" fill="#3b4252" text-anchor="end" stroke="#3b4252" stroke-width="0.3">$6b</text>
<text x="73.5" y="171.0" font-size="16.4" fill="#3b4252" text-anchor="end" stroke="#3b4252" stroke-width="0.3">$5.5b</text>
<text x="73.5" y="240.7" font-size="16.4" fill="#3b4252" text-anchor="end" stroke="#3b4252" stroke-width="0.3">$5b</text>
<text x="73.5" y="310.4" font-size="16.4" fill="#3b4252" text-anchor="end" stroke="#3b4252" stroke-width="0.3">$4.5b</text>
<text x="73.5" y="380.2" font-size="16.4" fill="#3b4252" text-anchor="end" stroke="#3b4252" stroke-width="0.3">$4b</text>
<text x="73.5" y="449.9" font-size="16.4" fill="#3b4252" text-anchor="end" stroke="#3b4252" stroke-width="0.3">$3.5b</text>
<text x="73.5" y="519.7" font-size="16.4" fill="#3b4252" text-anchor="end" stroke="#3b4252" stroke-width="0.3">$3b</text>
<text x="73.5" y="589.4" font-size="16.4" fill="#3b4252" text-anchor="end" stroke="#3b4252" stroke-width="0.3">$2.5b</text>
<text x="73.5" y="659.2" font-size="16.4" fill="#3b4252" text-anchor="end" stroke="#3b4252" stroke-width="0.3">$2b</text>
<text x="73.5" y="728.9" font-size="16.4" fill="#3b4252" text-anchor="end" stroke="#3b4252" stroke-width="0.3">$1.5b</text>
<text x="73.5" y="798.7" font-size="16.4" fill="#3b4252" text-anchor="end" stroke="#3b4252" stroke-width="0.3">$1b</text>
<text x="73.5" y="868.4" font-size="16.4" fill="#3b4252" text-anchor="end" stroke="#3b4252" stroke-width="0.3">$500m</text>
<text x="73.5" y="938.2" font-size="16.4" fill="#3b4252" text-anchor="end" stroke="#3b4252" stroke-width="0.3">$0</text>
<text x="1967.5" y="86.8" font-size="16.6" fill="#3b4252" textLength="45.2" lengthAdjust="spacing" stroke="#3b4252" stroke-width="0.3">$200k</text>
<text x="1967.5" y="283.8" font-size="16.6" fill="#3b4252" textLength="43.1" lengthAdjust="spacing" stroke="#3b4252" stroke-width="0.3">$100k</text>
<text x="1967.5" y="384.8" font-size="16.6" fill="#3b4252" stroke="#3b4252" stroke-width="0.3">$70k</text>
<text x="1967.5" y="480.8" font-size="16.6" fill="#3b4252" stroke="#3b4252" stroke-width="0.3">$50k</text>
<text x="1967.5" y="625.8" font-size="16.6" fill="#3b4252" stroke="#3b4252" stroke-width="0.3">$30k</text>
<text x="1967.5" y="740.8" font-size="16.6" fill="#3b4252" stroke="#3b4252" stroke-width="0.3">$20k</text>
<text x="1967.5" y="937.8" font-size="16.6" fill="#3b4252" stroke="#3b4252" stroke-width="0.3">$10k</text>
<circle cx="22" cy="33" r="5.2" fill="#e5484d"/>
<text x="34" y="39" font-size="17.2" fill="#333842" textLength="33.6" lengthAdjust="spacing" stroke="#333842" stroke-width="0.3">STH</text>
<circle cx="96" cy="33" r="5.2" fill="#4a68ea"/>
<text x="108" y="39" font-size="17.2" fill="#333842" textLength="30.5" lengthAdjust="spacing" stroke="#333842" stroke-width="0.3">LTH</text>
<circle cx="167" cy="33" r="5.2" fill="#3d4352"/>
<text x="179" y="39" font-size="17.2" fill="#333842" textLength="93.9" lengthAdjust="spacing" stroke="#333842" stroke-width="0.3">Aggregated</text>
<circle cx="301" cy="33" r="5.2" fill="#000"/>
<text x="313.5" y="39" font-size="17.2" fill="#333842" textLength="135" lengthAdjust="spacing" stroke="#333842" stroke-width="0.3">BTC: Price [USD]</text>
</svg>
<div style="position:absolute;left:1960px;top:-70px;width:200px;height:60px;border-radius:30px;box-shadow:0 8px 36px 6px rgba(0,0,0,0.085)"></div>
<div style="position:absolute;left:1837px;top:23px;width:117px;height:35px;border-radius:5px;background:#f6f7f9"></div>
<div style="position:absolute;left:1606px;top:71px;width:288px;height:124.5px;border-radius:4px;background:#fff;box-shadow:0 6px 18px rgba(0,0,0,0.18),0 1px 4px rgba(0,0,0,0.10)"></div>
<svg width="2048" height="982" viewBox="0 0 2048 982" style="position:absolute;left:0;top:0" font-family="Liberation Sans, Arial, sans-serif">
<text x="1849.1" y="46.8" font-size="16.8" fill="#3b4252" textLength="93.3" lengthAdjust="spacing" stroke="#3b4252" stroke-width="0.3">Reset zoom</text>
<g fill="none" stroke="#3b4252" stroke-width="1.6" stroke-linejoin="round"><path d="M1990,35.2 h4.3 l1.4,-2.4 h6.6 l1.4,2.4 h4.3 v11.6 h-18 z"/><circle cx="1999" cy="40.6" r="3.4"/></g>
<text x="1617.9" y="94.6" font-size="14.3" fill="#3b4252" textLength="178.7" lengthAdjust="spacing" stroke="#3b4252" stroke-width="0.3">Saturday, Nov 22 2025 UTC</text>
<circle cx="1624.8" cy="111.7" r="5.9" fill="#e5484d"/>
<text x="1642.6" y="117.5" font-size="16.5" fill="#333842" textLength="35.9" lengthAdjust="spacing" stroke="#333842" stroke-width="0.3">STH:</text>
<text x="1683.4" y="117.5" font-size="16.5" font-weight="700" fill="#333842" textLength="147.4" lengthAdjust="spacing">$2,993,746,306.90</text>
<circle cx="1624.8" cy="132.2" r="5.9" fill="#4a68ea"/>
<text x="1642.6" y="138.0" font-size="16.5" fill="#333842" textLength="32.7" lengthAdjust="spacing" stroke="#333842" stroke-width="0.3">LTH:</text>
<text x="1681" y="138.0" font-size="16.5" font-weight="700" fill="#333842" textLength="144.9" lengthAdjust="spacing">$2,734,519,039.20</text>
<circle cx="1624.8" cy="152.8" r="5.9" fill="#3d4352"/>
<text x="1642.6" y="158.6" font-size="16.5" fill="#333842" textLength="91.4" lengthAdjust="spacing" stroke="#333842" stroke-width="0.3">Aggregated:</text>
<text x="1739.6" y="158.6" font-size="16.5" font-weight="700" fill="#333842" textLength="143.5" lengthAdjust="spacing">$5,728,265,346.10</text>
<circle cx="1624.8" cy="173.8" r="5.9" fill="#000"/>
<text x="1642.6" y="179.6" font-size="16.5" fill="#333842" textLength="131.2" lengthAdjust="spacing" stroke="#333842" stroke-width="0.3">BTC: Price [USD]:</text>
<text x="1778.7" y="179.6" font-size="16.5" font-weight="700" fill="#333842" textLength="85.5" lengthAdjust="spacing">$84,747.80</text>
</svg>
</body></html>
